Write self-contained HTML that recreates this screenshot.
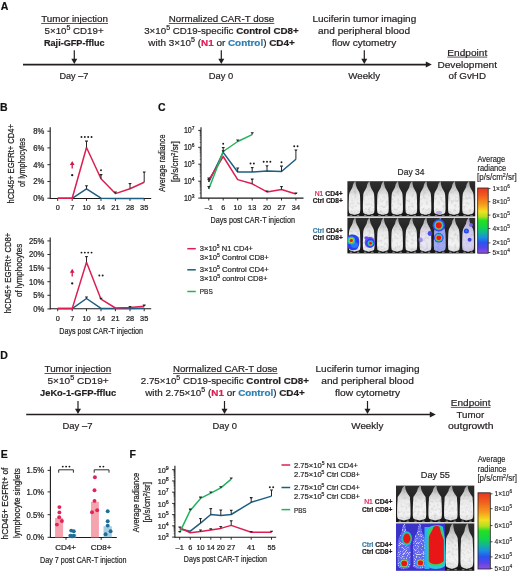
<!DOCTYPE html>
<html><head><meta charset="utf-8"><style>
html,body{margin:0;padding:0;background:#fff;width:520px;height:574px;overflow:hidden}
svg{display:block;filter:blur(0.3px)}
text{font-family:"Liberation Sans", sans-serif}
</style></head><body>
<svg width="520" height="574" viewBox="0 0 520 574">
<rect width="520" height="574" fill="#fff"/>
<defs>
<filter id="bl" x="-20%" y="-20%" width="140%" height="140%"><feGaussianBlur stdDeviation="0.45"/></filter>
<filter id="bl2" x="-50%" y="-50%" width="200%" height="200%"><feGaussianBlur stdDeviation="0.8"/></filter>
<filter id="fur" x="0" y="0" width="100%" height="100%"><feTurbulence type="fractalNoise" baseFrequency="0.35" numOctaves="2" seed="3" result="n"/><feColorMatrix in="n" type="matrix" values="0 0 0 0 0.3  0 0 0 0 0.3  0 0 0 0 0.3  0 0 0 0.8 -0.38" result="m"/><feGaussianBlur in="m" stdDeviation="0.5" result="b"/><feComposite in="b" in2="SourceGraphic" operator="in"/></filter>
<filter id="speck" x="0" y="0" width="100%" height="100%"><feTurbulence type="fractalNoise" baseFrequency="1.1" numOctaves="1" seed="7" result="n"/><feColorMatrix in="n" type="matrix" values="0 0 0 0 1  0 0 0 0 1  0 0 0 0 1  0 0 0 7 -3.7" result="m"/><feComposite in="m" in2="SourceGraphic" operator="in"/></filter>
<linearGradient id="cbar" x1="0" y1="0" x2="0" y2="1">
<stop offset="0" stop-color="#e8361e"/><stop offset="0.12" stop-color="#f05e1e"/><stop offset="0.25" stop-color="#f59a1c"/>
<stop offset="0.36" stop-color="#f2e020"/><stop offset="0.44" stop-color="#b0e020"/><stop offset="0.5" stop-color="#22e024"/><stop offset="0.6" stop-color="#14d448"/>
<stop offset="0.68" stop-color="#12b890"/><stop offset="0.76" stop-color="#1a8ee0"/><stop offset="0.84" stop-color="#2a52f0"/><stop offset="0.92" stop-color="#5a44e8"/><stop offset="1" stop-color="#9050e0"/>
</linearGradient>
<radialGradient id="hot">
<stop offset="0" stop-color="#e80f1a"/><stop offset="0.35" stop-color="#e81a1a"/><stop offset="0.45" stop-color="#f0c020"/>
<stop offset="0.55" stop-color="#20d0a0"/><stop offset="0.68" stop-color="#2070f0"/><stop offset="0.85" stop-color="#5a3cf0" stop-opacity="0.8"/><stop offset="1" stop-color="#8060f0" stop-opacity="0"/>
</radialGradient>
<radialGradient id="hot2">
<stop offset="0" stop-color="#e80f1a"/><stop offset="0.3" stop-color="#e8401a"/><stop offset="0.42" stop-color="#f0d020"/>
<stop offset="0.52" stop-color="#30d050"/><stop offset="0.62" stop-color="#20b0e0"/><stop offset="0.78" stop-color="#2440e8"/><stop offset="1" stop-color="#6040e0" stop-opacity="0"/>
</radialGradient>
<radialGradient id="bluespot">
<stop offset="0" stop-color="#1e5cf0"/><stop offset="0.5" stop-color="#3040e8"/><stop offset="1" stop-color="#8060f0" stop-opacity="0"/>
</radialGradient>
<radialGradient id="purp">
<stop offset="0" stop-color="#6a40e0" stop-opacity="0.9"/><stop offset="1" stop-color="#9070f0" stop-opacity="0"/>
</radialGradient>
<linearGradient id="mg" x1="0" y1="0" x2="0" y2="1">
<stop offset="0" stop-color="#999"/><stop offset="0.2" stop-color="#cacaca"/><stop offset="0.45" stop-color="#ebebeb"/><stop offset="0.8" stop-color="#f3f3f3"/><stop offset="1" stop-color="#dedede"/>
</linearGradient>
<linearGradient id="bgg" x1="0" y1="0" x2="0" y2="1">
<stop offset="0" stop-color="#2e2e2e"/><stop offset="0.5" stop-color="#1e1e1e"/><stop offset="1" stop-color="#161616"/>
</linearGradient>
</defs>
<text x="0.80" y="9.50" font-size="10.5" text-anchor="start" fill="#111" stroke="#111" stroke-width="0.2" font-weight="bold">A</text>
<text x="0.10" y="111.10" font-size="10.5" text-anchor="start" fill="#111" stroke="#111" stroke-width="0.2" font-weight="bold">B</text>
<text x="158.10" y="111.10" font-size="10.5" text-anchor="start" fill="#111" stroke="#111" stroke-width="0.2" font-weight="bold">C</text>
<text x="0.30" y="359.30" font-size="10.5" text-anchor="start" fill="#111" stroke="#111" stroke-width="0.2" font-weight="bold">D</text>
<text x="0.80" y="458.30" font-size="10.5" text-anchor="start" fill="#111" stroke="#111" stroke-width="0.2" font-weight="bold">E</text>
<text x="129.50" y="457.90" font-size="10.5" text-anchor="start" fill="#111" stroke="#111" stroke-width="0.2" font-weight="bold">F</text>
<line x1="23.00" y1="64.60" x2="426.80" y2="64.60" stroke="#231f20" stroke-width="1.7"/>
<path d="M425.80,61.60 L431.80,64.60 L425.80,67.60 Z" fill="#231f20"/>
<line x1="74.30" y1="50.20" x2="74.30" y2="61.00" stroke="#231f20" stroke-width="1.2"/>
<path d="M71.30,58.80 L77.30,58.80 L74.30,64.00 Z" fill="#231f20"/>
<line x1="221.30" y1="50.20" x2="221.30" y2="61.00" stroke="#231f20" stroke-width="1.2"/>
<path d="M218.30,58.80 L224.30,58.80 L221.30,64.00 Z" fill="#231f20"/>
<line x1="364.30" y1="50.20" x2="364.30" y2="61.00" stroke="#231f20" stroke-width="1.2"/>
<path d="M361.30,58.80 L367.30,58.80 L364.30,64.00 Z" fill="#231f20"/>
<text x="41.20" y="22.30" font-size="9.6" text-anchor="start" fill="#231f20" stroke="#231f20" stroke-width="0.2" textLength="66.80" lengthAdjust="spacingAndGlyphs">Tumor injection</text>
<line x1="41.20" y1="23.50" x2="108.00" y2="23.50" stroke="#231f20" stroke-width="0.75"/>
<text x="44.60" y="34.30" font-size="9.6" text-anchor="start" fill="#231f20" stroke="#231f20" stroke-width="0.2" textLength="59.00" lengthAdjust="spacingAndGlyphs">5×10<tspan baseline-shift="3.6" font-size="6.9">5</tspan> CD19+</text>
<text x="44.00" y="45.80" font-size="9.6" text-anchor="start" fill="#231f20" stroke="#231f20" stroke-width="0.2" font-weight="bold" textLength="60.60" lengthAdjust="spacingAndGlyphs">Raji-GFP-ffluc</text>
<text x="59.40" y="78.80" font-size="9.6" text-anchor="start" fill="#231f20" stroke="#231f20" stroke-width="0.2" textLength="28.90" lengthAdjust="spacingAndGlyphs">Day –7</text>
<text x="168.80" y="22.30" font-size="9.6" text-anchor="start" fill="#231f20" stroke="#231f20" stroke-width="0.2" textLength="105.50" lengthAdjust="spacingAndGlyphs">Normalized CAR-T dose</text>
<line x1="168.80" y1="23.50" x2="274.30" y2="23.50" stroke="#231f20" stroke-width="0.75"/>
<text x="144.20" y="34.30" font-size="9.6" text-anchor="start" fill="#231f20" stroke="#231f20" stroke-width="0.2" textLength="154.50" lengthAdjust="spacingAndGlyphs">3×10<tspan baseline-shift="3.6" font-size="6.9">5</tspan> CD19-specific <tspan font-weight="bold">Control CD8+</tspan></text>
<text x="148.30" y="45.60" font-size="9.6" text-anchor="start" fill="#231f20" stroke="#231f20" stroke-width="0.2" textLength="146.50" lengthAdjust="spacingAndGlyphs">with 3×10<tspan baseline-shift="3.6" font-size="6.9">5</tspan> (<tspan fill="#dc1f52" stroke="#dc1f52"><tspan font-weight="bold">N1</tspan></tspan> or <tspan fill="#2b7db5" stroke="#2b7db5"><tspan font-weight="bold">Control</tspan></tspan>) <tspan font-weight="bold">CD4+</tspan></text>
<text x="208.80" y="78.70" font-size="9.6" text-anchor="start" fill="#231f20" stroke="#231f20" stroke-width="0.2" textLength="24.50" lengthAdjust="spacingAndGlyphs">Day 0</text>
<text x="312.50" y="22.40" font-size="9.6" text-anchor="start" fill="#231f20" stroke="#231f20" stroke-width="0.2" textLength="103.70" lengthAdjust="spacingAndGlyphs">Luciferin tumor imaging</text>
<text x="318.00" y="34.30" font-size="9.6" text-anchor="start" fill="#231f20" stroke="#231f20" stroke-width="0.2" textLength="92.00" lengthAdjust="spacingAndGlyphs">and peripheral blood</text>
<text x="332.00" y="45.70" font-size="9.6" text-anchor="start" fill="#231f20" stroke="#231f20" stroke-width="0.2" textLength="64.20" lengthAdjust="spacingAndGlyphs">flow cytometry</text>
<text x="348.30" y="78.70" font-size="9.6" text-anchor="start" fill="#231f20" stroke="#231f20" stroke-width="0.2" textLength="31.70" lengthAdjust="spacingAndGlyphs">Weekly</text>
<text x="447.30" y="55.80" font-size="9.6" text-anchor="start" fill="#231f20" stroke="#231f20" stroke-width="0.2" textLength="39.90" lengthAdjust="spacingAndGlyphs">Endpoint</text>
<line x1="447.30" y1="57.10" x2="487.20" y2="57.10" stroke="#231f20" stroke-width="0.75"/>
<text x="437.40" y="67.90" font-size="9.6" text-anchor="start" fill="#231f20" stroke="#231f20" stroke-width="0.2" textLength="59.60" lengthAdjust="spacingAndGlyphs">Development</text>
<text x="448.50" y="79.00" font-size="9.6" text-anchor="start" fill="#231f20" stroke="#231f20" stroke-width="0.2" textLength="37.50" lengthAdjust="spacingAndGlyphs">of GvHD</text>
<line x1="26.20" y1="414.50" x2="430.80" y2="414.50" stroke="#231f20" stroke-width="1.7"/>
<path d="M429.80,411.50 L435.80,414.50 L429.80,417.50 Z" fill="#231f20"/>
<line x1="78.00" y1="401.00" x2="78.00" y2="410.90" stroke="#231f20" stroke-width="1.2"/>
<path d="M75.00,408.70 L81.00,408.70 L78.00,413.90 Z" fill="#231f20"/>
<line x1="224.50" y1="401.00" x2="224.50" y2="410.90" stroke="#231f20" stroke-width="1.2"/>
<path d="M221.50,408.70 L227.50,408.70 L224.50,413.90 Z" fill="#231f20"/>
<line x1="367.50" y1="401.00" x2="367.50" y2="410.90" stroke="#231f20" stroke-width="1.2"/>
<path d="M364.50,408.70 L370.50,408.70 L367.50,413.90 Z" fill="#231f20"/>
<text x="44.50" y="372.30" font-size="9.6" text-anchor="start" fill="#231f20" stroke="#231f20" stroke-width="0.2" textLength="66.80" lengthAdjust="spacingAndGlyphs">Tumor injection</text>
<line x1="44.50" y1="373.50" x2="111.30" y2="373.50" stroke="#231f20" stroke-width="0.75"/>
<text x="47.50" y="384.30" font-size="9.6" text-anchor="start" fill="#231f20" stroke="#231f20" stroke-width="0.2" textLength="61.20" lengthAdjust="spacingAndGlyphs">5×10<tspan baseline-shift="3.6" font-size="6.9">5</tspan> CD19+</text>
<text x="40.00" y="395.80" font-size="9.6" text-anchor="start" fill="#231f20" stroke="#231f20" stroke-width="0.2" font-weight="bold" textLength="76.20" lengthAdjust="spacingAndGlyphs">JeKo-1-GFP-ffluc</text>
<text x="62.50" y="429.30" font-size="9.6" text-anchor="start" fill="#231f20" stroke="#231f20" stroke-width="0.2" textLength="30.00" lengthAdjust="spacingAndGlyphs">Day –7</text>
<text x="173.00" y="372.30" font-size="9.6" text-anchor="start" fill="#231f20" stroke="#231f20" stroke-width="0.2" textLength="104.50" lengthAdjust="spacingAndGlyphs">Normalized CAR-T dose</text>
<line x1="173.00" y1="373.50" x2="277.50" y2="373.50" stroke="#231f20" stroke-width="0.75"/>
<text x="140.80" y="384.30" font-size="9.6" text-anchor="start" fill="#231f20" stroke="#231f20" stroke-width="0.2" textLength="168.20" lengthAdjust="spacingAndGlyphs">2.75×10<tspan baseline-shift="3.6" font-size="6.9">5</tspan> CD19-specific <tspan font-weight="bold">Control CD8+</tspan></text>
<text x="145.20" y="395.80" font-size="9.6" text-anchor="start" fill="#231f20" stroke="#231f20" stroke-width="0.2" textLength="159.50" lengthAdjust="spacingAndGlyphs">with 2.75×10<tspan baseline-shift="3.6" font-size="6.9">5</tspan> (<tspan fill="#dc1f52" stroke="#dc1f52"><tspan font-weight="bold">N1</tspan></tspan> or <tspan fill="#2b7db5" stroke="#2b7db5"><tspan font-weight="bold">Control</tspan></tspan>) <tspan font-weight="bold">CD4+</tspan></text>
<text x="212.50" y="428.80" font-size="9.6" text-anchor="start" fill="#231f20" stroke="#231f20" stroke-width="0.2" textLength="24.50" lengthAdjust="spacingAndGlyphs">Day 0</text>
<text x="315.50" y="372.30" font-size="9.6" text-anchor="start" fill="#231f20" stroke="#231f20" stroke-width="0.2" textLength="104.00" lengthAdjust="spacingAndGlyphs">Luciferin tumor imaging</text>
<text x="321.30" y="384.30" font-size="9.6" text-anchor="start" fill="#231f20" stroke="#231f20" stroke-width="0.2" textLength="92.50" lengthAdjust="spacingAndGlyphs">and peripheral blood</text>
<text x="335.00" y="395.80" font-size="9.6" text-anchor="start" fill="#231f20" stroke="#231f20" stroke-width="0.2" textLength="65.00" lengthAdjust="spacingAndGlyphs">flow cytometry</text>
<text x="351.30" y="428.80" font-size="9.6" text-anchor="start" fill="#231f20" stroke="#231f20" stroke-width="0.2" textLength="32.00" lengthAdjust="spacingAndGlyphs">Weekly</text>
<text x="450.80" y="406.20" font-size="9.6" text-anchor="start" fill="#231f20" stroke="#231f20" stroke-width="0.2" textLength="39.70" lengthAdjust="spacingAndGlyphs">Endpoint</text>
<line x1="450.80" y1="407.40" x2="490.50" y2="407.40" stroke="#231f20" stroke-width="0.75"/>
<text x="456.50" y="417.90" font-size="9.6" text-anchor="start" fill="#231f20" stroke="#231f20" stroke-width="0.2" textLength="27.70" lengthAdjust="spacingAndGlyphs">Tumor</text>
<text x="448.00" y="428.90" font-size="9.6" text-anchor="start" fill="#231f20" stroke="#231f20" stroke-width="0.2" textLength="45.50" lengthAdjust="spacingAndGlyphs">outgrowth</text>
<line x1="50.20" y1="127.30" x2="50.20" y2="199.00" stroke="#1a1a1a" stroke-width="1.1"/>
<line x1="47.40" y1="131.20" x2="50.20" y2="131.20" stroke="#1a1a1a" stroke-width="0.9"/>
<text x="44.20" y="134.10" font-size="8.3" text-anchor="end" fill="#1e1e1e" stroke="#1e1e1e" stroke-width="0.24" textLength="11.04" lengthAdjust="spacingAndGlyphs">8%</text>
<line x1="47.40" y1="147.90" x2="50.20" y2="147.90" stroke="#1a1a1a" stroke-width="0.9"/>
<text x="44.20" y="150.80" font-size="8.3" text-anchor="end" fill="#1e1e1e" stroke="#1e1e1e" stroke-width="0.24" textLength="11.04" lengthAdjust="spacingAndGlyphs">6%</text>
<line x1="47.40" y1="164.70" x2="50.20" y2="164.70" stroke="#1a1a1a" stroke-width="0.9"/>
<text x="44.20" y="167.60" font-size="8.3" text-anchor="end" fill="#1e1e1e" stroke="#1e1e1e" stroke-width="0.24" textLength="11.04" lengthAdjust="spacingAndGlyphs">4%</text>
<line x1="47.40" y1="181.50" x2="50.20" y2="181.50" stroke="#1a1a1a" stroke-width="0.9"/>
<text x="44.20" y="184.40" font-size="8.3" text-anchor="end" fill="#1e1e1e" stroke="#1e1e1e" stroke-width="0.24" textLength="11.04" lengthAdjust="spacingAndGlyphs">2%</text>
<line x1="47.40" y1="198.20" x2="50.20" y2="198.20" stroke="#1a1a1a" stroke-width="0.9"/>
<text x="44.20" y="201.10" font-size="8.3" text-anchor="end" fill="#1e1e1e" stroke="#1e1e1e" stroke-width="0.24" textLength="11.04" lengthAdjust="spacingAndGlyphs">0%</text>
<line x1="50.20" y1="198.50" x2="151.20" y2="198.50" stroke="#1a1a1a" stroke-width="1.1"/>
<line x1="57.70" y1="198.50" x2="57.70" y2="200.90" stroke="#1a1a1a" stroke-width="0.9"/>
<text x="57.70" y="209.70" font-size="7.9" text-anchor="middle" fill="#1e1e1e" stroke="#1e1e1e" stroke-width="0.24" textLength="4.09" lengthAdjust="spacingAndGlyphs">0</text>
<line x1="72.20" y1="198.50" x2="72.20" y2="200.90" stroke="#1a1a1a" stroke-width="0.9"/>
<text x="72.20" y="209.70" font-size="7.9" text-anchor="middle" fill="#1e1e1e" stroke="#1e1e1e" stroke-width="0.24" textLength="4.09" lengthAdjust="spacingAndGlyphs">7</text>
<line x1="86.50" y1="198.50" x2="86.50" y2="200.90" stroke="#1a1a1a" stroke-width="0.9"/>
<text x="86.50" y="209.70" font-size="7.9" text-anchor="middle" fill="#1e1e1e" stroke="#1e1e1e" stroke-width="0.24" textLength="8.17" lengthAdjust="spacingAndGlyphs">10</text>
<line x1="101.00" y1="198.50" x2="101.00" y2="200.90" stroke="#1a1a1a" stroke-width="0.9"/>
<text x="101.00" y="209.70" font-size="7.9" text-anchor="middle" fill="#1e1e1e" stroke="#1e1e1e" stroke-width="0.24" textLength="8.17" lengthAdjust="spacingAndGlyphs">14</text>
<line x1="115.40" y1="198.50" x2="115.40" y2="200.90" stroke="#1a1a1a" stroke-width="0.9"/>
<text x="115.40" y="209.70" font-size="7.9" text-anchor="middle" fill="#1e1e1e" stroke="#1e1e1e" stroke-width="0.24" textLength="8.17" lengthAdjust="spacingAndGlyphs">21</text>
<line x1="130.00" y1="198.50" x2="130.00" y2="200.90" stroke="#1a1a1a" stroke-width="0.9"/>
<text x="130.00" y="209.70" font-size="7.9" text-anchor="middle" fill="#1e1e1e" stroke="#1e1e1e" stroke-width="0.24" textLength="8.17" lengthAdjust="spacingAndGlyphs">28</text>
<line x1="144.20" y1="198.50" x2="144.20" y2="200.90" stroke="#1a1a1a" stroke-width="0.9"/>
<text x="144.20" y="209.70" font-size="7.9" text-anchor="middle" fill="#1e1e1e" stroke="#1e1e1e" stroke-width="0.24" textLength="8.17" lengthAdjust="spacingAndGlyphs">35</text>
<polyline points="57.70,198.30 72.20,198.30 86.50,188.80 101.00,198.20 115.40,198.40 130.00,198.40 144.20,198.40" fill="none" stroke="#1d5e82" stroke-width="1.5" stroke-linejoin="round"/>
<polyline points="57.70,198.30 72.20,198.30 86.50,147.50 101.00,178.80 115.40,193.60 130.00,188.80 144.20,182.30" fill="none" stroke="#dc1f52" stroke-width="1.5" stroke-linejoin="round"/>
<line x1="86.50" y1="147.50" x2="86.50" y2="141.20" stroke="#262626" stroke-width="1.0"/>
<path d="M84.90,140.60 L88.10,140.60 L87.46,141.90 L85.54,141.90 Z" fill="#262626"/>
<line x1="101.00" y1="178.80" x2="101.00" y2="174.70" stroke="#262626" stroke-width="1.0"/>
<path d="M99.40,174.10 L102.60,174.10 L101.96,175.40 L100.04,175.40 Z" fill="#262626"/>
<line x1="115.40" y1="193.60" x2="115.40" y2="192.00" stroke="#262626" stroke-width="1.0"/>
<path d="M113.80,191.40 L117.00,191.40 L116.36,192.70 L114.44,192.70 Z" fill="#262626"/>
<line x1="130.00" y1="188.80" x2="130.00" y2="183.50" stroke="#262626" stroke-width="1.0"/>
<path d="M128.40,182.90 L131.60,182.90 L130.96,184.20 L129.04,184.20 Z" fill="#262626"/>
<line x1="144.20" y1="182.30" x2="144.20" y2="172.00" stroke="#262626" stroke-width="1.0"/>
<path d="M142.60,171.40 L145.80,171.40 L145.16,172.70 L143.24,172.70 Z" fill="#262626"/>
<line x1="86.50" y1="188.80" x2="86.50" y2="185.80" stroke="#262626" stroke-width="1.0"/>
<path d="M84.90,185.20 L88.10,185.20 L87.46,186.50 L85.54,186.50 Z" fill="#262626"/>
<circle cx="81.47" cy="137.00" r="0.95" fill="#1a1a1a"/>
<circle cx="84.83" cy="137.00" r="0.95" fill="#1a1a1a"/>
<circle cx="88.17" cy="137.00" r="0.95" fill="#1a1a1a"/>
<circle cx="91.53" cy="137.00" r="0.95" fill="#1a1a1a"/>
<circle cx="101.00" cy="170.30" r="0.95" fill="#1a1a1a"/>
<line x1="72.20" y1="163.10" x2="72.20" y2="168.60" stroke="#d0164a" stroke-width="1.3"/>
<path d="M69.90,165.10 L74.50,165.10 L72.20,161.10 Z" fill="#d0164a"/>
<circle cx="72.20" cy="175.20" r="1.15" fill="#1a1a1a"/>
<text transform="translate(14.00,163.80) rotate(-90)" x="0" y="0" font-size="8.8" text-anchor="middle" fill="#1e1e1e" stroke="#1e1e1e" stroke-width="0.24" textLength="79.50" lengthAdjust="spacingAndGlyphs">hCD45+ EGFRt+ CD4+</text>
<text transform="translate(25.40,162.50) rotate(-90)" x="0" y="0" font-size="8.8" text-anchor="middle" fill="#1e1e1e" stroke="#1e1e1e" stroke-width="0.24" textLength="49.00" lengthAdjust="spacingAndGlyphs">of lymphocytes</text>
<line x1="50.20" y1="237.50" x2="50.20" y2="309.40" stroke="#1a1a1a" stroke-width="1.1"/>
<line x1="47.40" y1="240.90" x2="50.20" y2="240.90" stroke="#1a1a1a" stroke-width="0.9"/>
<text x="44.20" y="243.80" font-size="8.3" text-anchor="end" fill="#1e1e1e" stroke="#1e1e1e" stroke-width="0.24" textLength="15.28" lengthAdjust="spacingAndGlyphs">25%</text>
<line x1="47.40" y1="254.50" x2="50.20" y2="254.50" stroke="#1a1a1a" stroke-width="0.9"/>
<text x="44.20" y="257.40" font-size="8.3" text-anchor="end" fill="#1e1e1e" stroke="#1e1e1e" stroke-width="0.24" textLength="15.28" lengthAdjust="spacingAndGlyphs">20%</text>
<line x1="47.40" y1="268.10" x2="50.20" y2="268.10" stroke="#1a1a1a" stroke-width="0.9"/>
<text x="44.20" y="271.00" font-size="8.3" text-anchor="end" fill="#1e1e1e" stroke="#1e1e1e" stroke-width="0.24" textLength="15.28" lengthAdjust="spacingAndGlyphs">15%</text>
<line x1="47.40" y1="281.70" x2="50.20" y2="281.70" stroke="#1a1a1a" stroke-width="0.9"/>
<text x="44.20" y="284.60" font-size="8.3" text-anchor="end" fill="#1e1e1e" stroke="#1e1e1e" stroke-width="0.24" textLength="15.28" lengthAdjust="spacingAndGlyphs">10%</text>
<line x1="47.40" y1="295.30" x2="50.20" y2="295.30" stroke="#1a1a1a" stroke-width="0.9"/>
<text x="44.20" y="298.20" font-size="8.3" text-anchor="end" fill="#1e1e1e" stroke="#1e1e1e" stroke-width="0.24" textLength="11.04" lengthAdjust="spacingAndGlyphs">5%</text>
<line x1="47.40" y1="308.90" x2="50.20" y2="308.90" stroke="#1a1a1a" stroke-width="0.9"/>
<text x="44.20" y="311.80" font-size="8.3" text-anchor="end" fill="#1e1e1e" stroke="#1e1e1e" stroke-width="0.24" textLength="11.04" lengthAdjust="spacingAndGlyphs">0%</text>
<line x1="50.20" y1="308.80" x2="151.20" y2="308.80" stroke="#1a1a1a" stroke-width="1.1"/>
<line x1="57.70" y1="308.80" x2="57.70" y2="311.20" stroke="#1a1a1a" stroke-width="0.9"/>
<text x="57.70" y="320.50" font-size="7.9" text-anchor="middle" fill="#1e1e1e" stroke="#1e1e1e" stroke-width="0.24" textLength="4.09" lengthAdjust="spacingAndGlyphs">0</text>
<line x1="72.20" y1="308.80" x2="72.20" y2="311.20" stroke="#1a1a1a" stroke-width="0.9"/>
<text x="72.20" y="320.50" font-size="7.9" text-anchor="middle" fill="#1e1e1e" stroke="#1e1e1e" stroke-width="0.24" textLength="4.09" lengthAdjust="spacingAndGlyphs">7</text>
<line x1="86.50" y1="308.80" x2="86.50" y2="311.20" stroke="#1a1a1a" stroke-width="0.9"/>
<text x="86.50" y="320.50" font-size="7.9" text-anchor="middle" fill="#1e1e1e" stroke="#1e1e1e" stroke-width="0.24" textLength="8.17" lengthAdjust="spacingAndGlyphs">10</text>
<line x1="101.00" y1="308.80" x2="101.00" y2="311.20" stroke="#1a1a1a" stroke-width="0.9"/>
<text x="101.00" y="320.50" font-size="7.9" text-anchor="middle" fill="#1e1e1e" stroke="#1e1e1e" stroke-width="0.24" textLength="8.17" lengthAdjust="spacingAndGlyphs">14</text>
<line x1="115.40" y1="308.80" x2="115.40" y2="311.20" stroke="#1a1a1a" stroke-width="0.9"/>
<text x="115.40" y="320.50" font-size="7.9" text-anchor="middle" fill="#1e1e1e" stroke="#1e1e1e" stroke-width="0.24" textLength="8.17" lengthAdjust="spacingAndGlyphs">21</text>
<line x1="130.00" y1="308.80" x2="130.00" y2="311.20" stroke="#1a1a1a" stroke-width="0.9"/>
<text x="130.00" y="320.50" font-size="7.9" text-anchor="middle" fill="#1e1e1e" stroke="#1e1e1e" stroke-width="0.24" textLength="8.17" lengthAdjust="spacingAndGlyphs">28</text>
<line x1="144.20" y1="308.80" x2="144.20" y2="311.20" stroke="#1a1a1a" stroke-width="0.9"/>
<text x="144.20" y="320.50" font-size="7.9" text-anchor="middle" fill="#1e1e1e" stroke="#1e1e1e" stroke-width="0.24" textLength="8.17" lengthAdjust="spacingAndGlyphs">35</text>
<polyline points="57.70,308.60 72.20,308.60 86.50,298.50 101.00,308.40 115.40,308.60 130.00,308.40 144.20,308.20" fill="none" stroke="#1d5e82" stroke-width="1.5" stroke-linejoin="round"/>
<polyline points="57.70,308.60 72.20,308.60 86.50,262.30 101.00,299.20 115.40,308.00 130.00,307.40 144.20,306.30" fill="none" stroke="#dc1f52" stroke-width="1.5" stroke-linejoin="round"/>
<line x1="86.50" y1="262.30" x2="86.50" y2="256.50" stroke="#262626" stroke-width="1.0"/>
<path d="M84.90,255.90 L88.10,255.90 L87.46,257.20 L85.54,257.20 Z" fill="#262626"/>
<line x1="101.00" y1="299.20" x2="101.00" y2="298.30" stroke="#262626" stroke-width="1.0"/>
<path d="M99.40,297.70 L102.60,297.70 L101.96,299.00 L100.04,299.00 Z" fill="#262626"/>
<line x1="130.00" y1="307.40" x2="130.00" y2="306.60" stroke="#262626" stroke-width="1.0"/>
<path d="M128.40,306.00 L131.60,306.00 L130.96,307.30 L129.04,307.30 Z" fill="#262626"/>
<line x1="144.20" y1="306.30" x2="144.20" y2="305.20" stroke="#262626" stroke-width="1.0"/>
<path d="M142.60,304.60 L145.80,304.60 L145.16,305.90 L143.24,305.90 Z" fill="#262626"/>
<line x1="86.50" y1="298.50" x2="86.50" y2="297.00" stroke="#262626" stroke-width="1.0"/>
<path d="M84.90,296.40 L88.10,296.40 L87.46,297.70 L85.54,297.70 Z" fill="#262626"/>
<circle cx="81.47" cy="252.60" r="0.95" fill="#1a1a1a"/>
<circle cx="84.83" cy="252.60" r="0.95" fill="#1a1a1a"/>
<circle cx="88.17" cy="252.60" r="0.95" fill="#1a1a1a"/>
<circle cx="91.53" cy="252.60" r="0.95" fill="#1a1a1a"/>
<circle cx="99.33" cy="275.50" r="0.95" fill="#1a1a1a"/>
<circle cx="102.67" cy="275.50" r="0.95" fill="#1a1a1a"/>
<line x1="72.20" y1="270.80" x2="72.20" y2="276.50" stroke="#d0164a" stroke-width="1.3"/>
<path d="M69.90,272.80 L74.50,272.80 L72.20,268.80 Z" fill="#d0164a"/>
<circle cx="72.20" cy="283.40" r="1.15" fill="#1a1a1a"/>
<text transform="translate(10.60,273.00) rotate(-90)" x="0" y="0" font-size="8.8" text-anchor="middle" fill="#1e1e1e" stroke="#1e1e1e" stroke-width="0.24" textLength="80.70" lengthAdjust="spacingAndGlyphs">hCD45+ EGFRt+ CD8+</text>
<text transform="translate(21.60,270.40) rotate(-90)" x="0" y="0" font-size="8.8" text-anchor="middle" fill="#1e1e1e" stroke="#1e1e1e" stroke-width="0.24" textLength="53.30" lengthAdjust="spacingAndGlyphs">of lymphocytes</text>
<text x="59.30" y="334.30" font-size="9.6" text-anchor="start" fill="#1e1e1e" stroke="#1e1e1e" stroke-width="0.2" textLength="83.70" lengthAdjust="spacingAndGlyphs">Days post CAR-T injection</text>
<line x1="201.00" y1="127.30" x2="201.00" y2="198.60" stroke="#1a1a1a" stroke-width="1.1"/>
<line x1="198.20" y1="130.40" x2="201.00" y2="130.40" stroke="#1a1a1a" stroke-width="0.9"/>
<line x1="198.20" y1="147.30" x2="201.00" y2="147.30" stroke="#1a1a1a" stroke-width="0.9"/>
<line x1="198.20" y1="164.20" x2="201.00" y2="164.20" stroke="#1a1a1a" stroke-width="0.9"/>
<line x1="198.20" y1="181.20" x2="201.00" y2="181.20" stroke="#1a1a1a" stroke-width="0.9"/>
<line x1="198.20" y1="198.10" x2="201.00" y2="198.10" stroke="#1a1a1a" stroke-width="0.9"/>
<line x1="199.70" y1="142.21" x2="201.00" y2="142.21" stroke="#1a1a1a" stroke-width="0.6"/>
<line x1="199.70" y1="139.24" x2="201.00" y2="139.24" stroke="#1a1a1a" stroke-width="0.6"/>
<line x1="199.70" y1="137.13" x2="201.00" y2="137.13" stroke="#1a1a1a" stroke-width="0.6"/>
<line x1="199.70" y1="135.49" x2="201.00" y2="135.49" stroke="#1a1a1a" stroke-width="0.6"/>
<line x1="199.70" y1="134.15" x2="201.00" y2="134.15" stroke="#1a1a1a" stroke-width="0.6"/>
<line x1="199.70" y1="133.02" x2="201.00" y2="133.02" stroke="#1a1a1a" stroke-width="0.6"/>
<line x1="199.70" y1="132.04" x2="201.00" y2="132.04" stroke="#1a1a1a" stroke-width="0.6"/>
<line x1="199.70" y1="131.17" x2="201.00" y2="131.17" stroke="#1a1a1a" stroke-width="0.6"/>
<line x1="199.70" y1="159.11" x2="201.00" y2="159.11" stroke="#1a1a1a" stroke-width="0.6"/>
<line x1="199.70" y1="156.14" x2="201.00" y2="156.14" stroke="#1a1a1a" stroke-width="0.6"/>
<line x1="199.70" y1="154.03" x2="201.00" y2="154.03" stroke="#1a1a1a" stroke-width="0.6"/>
<line x1="199.70" y1="152.39" x2="201.00" y2="152.39" stroke="#1a1a1a" stroke-width="0.6"/>
<line x1="199.70" y1="151.05" x2="201.00" y2="151.05" stroke="#1a1a1a" stroke-width="0.6"/>
<line x1="199.70" y1="149.92" x2="201.00" y2="149.92" stroke="#1a1a1a" stroke-width="0.6"/>
<line x1="199.70" y1="148.94" x2="201.00" y2="148.94" stroke="#1a1a1a" stroke-width="0.6"/>
<line x1="199.70" y1="148.07" x2="201.00" y2="148.07" stroke="#1a1a1a" stroke-width="0.6"/>
<line x1="199.70" y1="176.08" x2="201.00" y2="176.08" stroke="#1a1a1a" stroke-width="0.6"/>
<line x1="199.70" y1="173.09" x2="201.00" y2="173.09" stroke="#1a1a1a" stroke-width="0.6"/>
<line x1="199.70" y1="170.96" x2="201.00" y2="170.96" stroke="#1a1a1a" stroke-width="0.6"/>
<line x1="199.70" y1="169.32" x2="201.00" y2="169.32" stroke="#1a1a1a" stroke-width="0.6"/>
<line x1="199.70" y1="167.97" x2="201.00" y2="167.97" stroke="#1a1a1a" stroke-width="0.6"/>
<line x1="199.70" y1="166.83" x2="201.00" y2="166.83" stroke="#1a1a1a" stroke-width="0.6"/>
<line x1="199.70" y1="165.85" x2="201.00" y2="165.85" stroke="#1a1a1a" stroke-width="0.6"/>
<line x1="199.70" y1="164.98" x2="201.00" y2="164.98" stroke="#1a1a1a" stroke-width="0.6"/>
<line x1="199.70" y1="193.01" x2="201.00" y2="193.01" stroke="#1a1a1a" stroke-width="0.6"/>
<line x1="199.70" y1="190.04" x2="201.00" y2="190.04" stroke="#1a1a1a" stroke-width="0.6"/>
<line x1="199.70" y1="187.93" x2="201.00" y2="187.93" stroke="#1a1a1a" stroke-width="0.6"/>
<line x1="199.70" y1="186.29" x2="201.00" y2="186.29" stroke="#1a1a1a" stroke-width="0.6"/>
<line x1="199.70" y1="184.95" x2="201.00" y2="184.95" stroke="#1a1a1a" stroke-width="0.6"/>
<line x1="199.70" y1="183.82" x2="201.00" y2="183.82" stroke="#1a1a1a" stroke-width="0.6"/>
<line x1="199.70" y1="182.84" x2="201.00" y2="182.84" stroke="#1a1a1a" stroke-width="0.6"/>
<line x1="199.70" y1="181.97" x2="201.00" y2="181.97" stroke="#1a1a1a" stroke-width="0.6"/>
<text x="183.90" y="133.00" font-size="8.3" text-anchor="start" fill="#1e1e1e" stroke="#1e1e1e" stroke-width="0.24" textLength="10.60" lengthAdjust="spacingAndGlyphs">10<tspan baseline-shift="3.2" font-size="5.8">7</tspan></text>
<text x="183.90" y="149.90" font-size="8.3" text-anchor="start" fill="#1e1e1e" stroke="#1e1e1e" stroke-width="0.24" textLength="10.60" lengthAdjust="spacingAndGlyphs">10<tspan baseline-shift="3.2" font-size="5.8">6</tspan></text>
<text x="183.90" y="166.80" font-size="8.3" text-anchor="start" fill="#1e1e1e" stroke="#1e1e1e" stroke-width="0.24" textLength="10.60" lengthAdjust="spacingAndGlyphs">10<tspan baseline-shift="3.2" font-size="5.8">5</tspan></text>
<text x="183.90" y="183.80" font-size="8.3" text-anchor="start" fill="#1e1e1e" stroke="#1e1e1e" stroke-width="0.24" textLength="10.60" lengthAdjust="spacingAndGlyphs">10<tspan baseline-shift="3.2" font-size="5.8">4</tspan></text>
<text x="183.90" y="200.70" font-size="8.3" text-anchor="start" fill="#1e1e1e" stroke="#1e1e1e" stroke-width="0.24" textLength="10.60" lengthAdjust="spacingAndGlyphs">10<tspan baseline-shift="3.2" font-size="5.8">3</tspan></text>
<line x1="201.00" y1="198.10" x2="303.50" y2="198.10" stroke="#1a1a1a" stroke-width="1.1"/>
<line x1="208.80" y1="198.10" x2="208.80" y2="200.50" stroke="#1a1a1a" stroke-width="0.9"/>
<text x="208.80" y="209.90" font-size="7.9" text-anchor="middle" fill="#1e1e1e" stroke="#1e1e1e" stroke-width="0.24" textLength="8.17" lengthAdjust="spacingAndGlyphs">–1</text>
<line x1="223.20" y1="198.10" x2="223.20" y2="200.50" stroke="#1a1a1a" stroke-width="0.9"/>
<text x="223.20" y="209.90" font-size="7.9" text-anchor="middle" fill="#1e1e1e" stroke="#1e1e1e" stroke-width="0.24" textLength="4.09" lengthAdjust="spacingAndGlyphs">6</text>
<line x1="237.70" y1="198.10" x2="237.70" y2="200.50" stroke="#1a1a1a" stroke-width="0.9"/>
<text x="237.70" y="209.90" font-size="7.9" text-anchor="middle" fill="#1e1e1e" stroke="#1e1e1e" stroke-width="0.24" textLength="8.17" lengthAdjust="spacingAndGlyphs">10</text>
<line x1="252.20" y1="198.10" x2="252.20" y2="200.50" stroke="#1a1a1a" stroke-width="0.9"/>
<text x="252.20" y="209.90" font-size="7.9" text-anchor="middle" fill="#1e1e1e" stroke="#1e1e1e" stroke-width="0.24" textLength="8.17" lengthAdjust="spacingAndGlyphs">13</text>
<line x1="267.00" y1="198.10" x2="267.00" y2="200.50" stroke="#1a1a1a" stroke-width="0.9"/>
<text x="267.00" y="209.90" font-size="7.9" text-anchor="middle" fill="#1e1e1e" stroke="#1e1e1e" stroke-width="0.24" textLength="8.17" lengthAdjust="spacingAndGlyphs">20</text>
<line x1="281.50" y1="198.10" x2="281.50" y2="200.50" stroke="#1a1a1a" stroke-width="0.9"/>
<text x="281.50" y="209.90" font-size="7.9" text-anchor="middle" fill="#1e1e1e" stroke="#1e1e1e" stroke-width="0.24" textLength="8.17" lengthAdjust="spacingAndGlyphs">27</text>
<line x1="295.90" y1="198.10" x2="295.90" y2="200.50" stroke="#1a1a1a" stroke-width="0.9"/>
<text x="295.90" y="209.90" font-size="7.9" text-anchor="middle" fill="#1e1e1e" stroke="#1e1e1e" stroke-width="0.24" textLength="8.17" lengthAdjust="spacingAndGlyphs">34</text>
<polyline points="208.80,182.00 223.20,152.40 237.70,172.00 252.20,172.00 267.00,171.00 281.50,171.50 295.90,159.30" fill="none" stroke="#1d5e82" stroke-width="1.5" stroke-linejoin="round"/>
<polyline points="208.80,180.00 223.20,156.50 237.70,179.60 252.20,183.80 267.00,191.90 281.50,189.50 295.90,194.00" fill="none" stroke="#dc1f52" stroke-width="1.5" stroke-linejoin="round"/>
<polyline points="208.80,188.90 223.20,151.50 237.70,141.50 252.20,134.60" fill="none" stroke="#22b35f" stroke-width="1.5" stroke-linejoin="round"/>
<line x1="208.80" y1="180.00" x2="208.80" y2="178.00" stroke="#262626" stroke-width="1.0"/>
<path d="M207.20,177.40 L210.40,177.40 L209.76,178.70 L207.84,178.70 Z" fill="#262626"/>
<line x1="252.20" y1="183.80" x2="252.20" y2="179.20" stroke="#262626" stroke-width="1.0"/>
<path d="M250.60,178.60 L253.80,178.60 L253.16,179.90 L251.24,179.90 Z" fill="#262626"/>
<line x1="267.00" y1="191.90" x2="267.00" y2="191.00" stroke="#262626" stroke-width="1.0"/>
<path d="M265.40,190.40 L268.60,190.40 L267.96,191.70 L266.04,191.70 Z" fill="#262626"/>
<line x1="281.50" y1="189.50" x2="281.50" y2="186.50" stroke="#262626" stroke-width="1.0"/>
<path d="M279.90,185.90 L283.10,185.90 L282.46,187.20 L280.54,187.20 Z" fill="#262626"/>
<line x1="295.90" y1="194.00" x2="295.90" y2="193.20" stroke="#262626" stroke-width="1.0"/>
<path d="M294.30,192.60 L297.50,192.60 L296.86,193.90 L294.94,193.90 Z" fill="#262626"/>
<line x1="208.80" y1="182.00" x2="208.80" y2="179.60" stroke="#262626" stroke-width="1.0"/>
<path d="M207.20,179.00 L210.40,179.00 L209.76,180.30 L207.84,180.30 Z" fill="#262626"/>
<line x1="223.20" y1="152.40" x2="223.20" y2="147.60" stroke="#262626" stroke-width="1.0"/>
<path d="M221.60,147.00 L224.80,147.00 L224.16,148.30 L222.24,148.30 Z" fill="#262626"/>
<line x1="237.70" y1="172.00" x2="237.70" y2="168.00" stroke="#262626" stroke-width="1.0"/>
<path d="M236.10,167.40 L239.30,167.40 L238.66,168.70 L236.74,168.70 Z" fill="#262626"/>
<line x1="252.20" y1="172.00" x2="252.20" y2="167.60" stroke="#262626" stroke-width="1.0"/>
<path d="M250.60,167.00 L253.80,167.00 L253.16,168.30 L251.24,168.30 Z" fill="#262626"/>
<line x1="267.00" y1="171.00" x2="267.00" y2="165.80" stroke="#262626" stroke-width="1.0"/>
<path d="M265.40,165.20 L268.60,165.20 L267.96,166.50 L266.04,166.50 Z" fill="#262626"/>
<line x1="281.50" y1="171.50" x2="281.50" y2="166.20" stroke="#262626" stroke-width="1.0"/>
<path d="M279.90,165.60 L283.10,165.60 L282.46,166.90 L280.54,166.90 Z" fill="#262626"/>
<line x1="295.90" y1="159.30" x2="295.90" y2="150.00" stroke="#262626" stroke-width="1.0"/>
<path d="M294.30,149.40 L297.50,149.40 L296.86,150.70 L294.94,150.70 Z" fill="#262626"/>
<line x1="208.80" y1="188.90" x2="208.80" y2="186.50" stroke="#262626" stroke-width="1.0"/>
<path d="M207.20,185.90 L210.40,185.90 L209.76,187.20 L207.84,187.20 Z" fill="#262626"/>
<line x1="223.20" y1="151.50" x2="223.20" y2="150.80" stroke="#262626" stroke-width="1.0"/>
<path d="M221.60,150.20 L224.80,150.20 L224.16,151.50 L222.24,151.50 Z" fill="#262626"/>
<line x1="237.70" y1="141.50" x2="237.70" y2="140.00" stroke="#262626" stroke-width="1.0"/>
<path d="M236.10,139.40 L239.30,139.40 L238.66,140.70 L236.74,140.70 Z" fill="#262626"/>
<line x1="252.20" y1="134.60" x2="252.20" y2="132.80" stroke="#262626" stroke-width="1.0"/>
<path d="M250.60,132.20 L253.80,132.20 L253.16,133.50 L251.24,133.50 Z" fill="#262626"/>
<circle cx="223.20" cy="143.80" r="0.95" fill="#1a1a1a"/>
<circle cx="250.52" cy="163.50" r="0.95" fill="#1a1a1a"/>
<circle cx="253.88" cy="163.50" r="0.95" fill="#1a1a1a"/>
<circle cx="263.65" cy="161.80" r="0.95" fill="#1a1a1a"/>
<circle cx="267.00" cy="161.80" r="0.95" fill="#1a1a1a"/>
<circle cx="270.35" cy="161.80" r="0.95" fill="#1a1a1a"/>
<circle cx="281.50" cy="162.30" r="0.95" fill="#1a1a1a"/>
<circle cx="294.22" cy="146.20" r="0.95" fill="#1a1a1a"/>
<circle cx="297.57" cy="146.20" r="0.95" fill="#1a1a1a"/>
<text transform="translate(165.20,163.10) rotate(-90)" x="0" y="0" font-size="9.0" text-anchor="middle" fill="#1e1e1e" stroke="#1e1e1e" stroke-width="0.24" textLength="57.20" lengthAdjust="spacingAndGlyphs">Average radiance</text>
<text transform="translate(177.60,161.60) rotate(-90)" x="0" y="0" font-size="8.4" text-anchor="middle" fill="#1e1e1e" stroke="#1e1e1e" stroke-width="0.24" textLength="40.60" lengthAdjust="spacingAndGlyphs">[p/s/cm<tspan baseline-shift="3.2" font-size="5.8">2</tspan>/sr]</text>
<text x="210.50" y="223.30" font-size="9.6" text-anchor="start" fill="#1e1e1e" stroke="#1e1e1e" stroke-width="0.2" textLength="84.50" lengthAdjust="spacingAndGlyphs">Days post CAR-T injection</text>
<line x1="187.30" y1="248.70" x2="195.80" y2="248.70" stroke="#dc1f52" stroke-width="1.5"/>
<text x="199.80" y="250.60" font-size="7.2" text-anchor="start" fill="#262626" stroke="#262626" stroke-width="0.2" textLength="53.20" lengthAdjust="spacingAndGlyphs">3×10<tspan baseline-shift="3.0" font-size="4.8">5</tspan> N1 CD4+</text>
<text x="199.80" y="259.80" font-size="7.2" text-anchor="start" fill="#262626" stroke="#262626" stroke-width="0.2" textLength="69.00" lengthAdjust="spacingAndGlyphs">3×10<tspan baseline-shift="3.0" font-size="4.8">5</tspan> Control CD8+</text>
<line x1="187.30" y1="269.80" x2="195.80" y2="269.80" stroke="#1d5e82" stroke-width="1.5"/>
<text x="199.80" y="271.70" font-size="7.2" text-anchor="start" fill="#262626" stroke="#262626" stroke-width="0.2" textLength="69.00" lengthAdjust="spacingAndGlyphs">3×10<tspan baseline-shift="3.0" font-size="4.8">5</tspan> Control CD4+</text>
<text x="199.80" y="280.90" font-size="7.2" text-anchor="start" fill="#262626" stroke="#262626" stroke-width="0.2" textLength="67.70" lengthAdjust="spacingAndGlyphs">3×10<tspan baseline-shift="3.0" font-size="4.8">5</tspan> control CD8+</text>
<line x1="187.30" y1="291.50" x2="195.80" y2="291.50" stroke="#22b35f" stroke-width="1.5"/>
<text x="199.80" y="294.20" font-size="7.2" text-anchor="start" fill="#262626" stroke="#262626" stroke-width="0.2" textLength="12.90" lengthAdjust="spacingAndGlyphs">PBS</text>
<text x="397.60" y="175.30" font-size="9.8" text-anchor="start" fill="#231f20" stroke="#231f20" stroke-width="0.2" textLength="26.80" lengthAdjust="spacingAndGlyphs">Day 34</text>
<rect x="347.40" y="181.20" width="127.80" height="35.30" fill="url(#bgg)"/>
<g filter="url(#bl)">
<path d="M354.50,214.76 C353.72,214.53 350.76,214.03 349.81,213.41 C348.87,212.78 349.01,212.16 348.82,211.03 C348.63,209.90 348.68,208.49 348.68,206.62 C348.68,204.76 348.75,201.82 348.82,199.84 C348.89,197.87 348.94,196.06 349.10,194.76 C349.27,193.46 349.48,192.90 349.81,192.05 C350.15,191.20 350.64,190.52 351.09,189.67 C351.54,188.83 352.16,187.92 352.51,186.96 C352.87,186.00 352.75,184.87 353.22,183.91 C353.70,182.95 354.93,181.20 355.35,181.20 C355.78,181.20 355.59,182.95 355.78,183.91 C355.97,184.87 356.13,186.00 356.49,186.96 C356.84,187.92 357.46,188.83 357.91,189.67 C358.36,190.52 358.85,191.20 359.19,192.05 C359.52,192.90 359.73,193.46 359.90,194.76 C360.06,196.06 360.11,197.87 360.18,199.84 C360.25,201.82 360.32,204.76 360.32,206.62 C360.32,208.49 360.37,209.90 360.18,211.03 C359.99,212.16 360.13,212.78 359.19,213.41 C358.24,214.03 355.28,214.53 354.50,214.76 Z" fill="url(#mg)"/>
<path d="M354.50,214.76 C353.72,214.53 350.76,214.03 349.81,213.41 C348.87,212.78 349.01,212.16 348.82,211.03 C348.63,209.90 348.68,208.49 348.68,206.62 C348.68,204.76 348.75,201.82 348.82,199.84 C348.89,197.87 348.94,196.06 349.10,194.76 C349.27,193.46 349.48,192.90 349.81,192.05 C350.15,191.20 350.64,190.52 351.09,189.67 C351.54,188.83 352.16,187.92 352.51,186.96 C352.87,186.00 352.75,184.87 353.22,183.91 C353.70,182.95 354.93,181.20 355.35,181.20 C355.78,181.20 355.59,182.95 355.78,183.91 C355.97,184.87 356.13,186.00 356.49,186.96 C356.84,187.92 357.46,188.83 357.91,189.67 C358.36,190.52 358.85,191.20 359.19,192.05 C359.52,192.90 359.73,193.46 359.90,194.76 C360.06,196.06 360.11,197.87 360.18,199.84 C360.25,201.82 360.32,204.76 360.32,206.62 C360.32,208.49 360.37,209.90 360.18,211.03 C359.99,212.16 360.13,212.78 359.19,213.41 C358.24,214.03 355.28,214.53 354.50,214.76 Z" fill="#000" filter="url(#fur)"/>
<ellipse cx="350.95" cy="215.50" rx="1.42" ry="0.8" fill="#777"/>
<ellipse cx="358.05" cy="215.50" rx="1.42" ry="0.8" fill="#777"/>
<path d="M368.70,214.76 C367.92,214.53 364.96,214.03 364.01,213.41 C363.07,212.78 363.21,212.16 363.02,211.03 C362.83,209.90 362.88,208.49 362.88,206.62 C362.88,204.76 362.95,201.82 363.02,199.84 C363.09,197.87 363.14,196.06 363.30,194.76 C363.47,193.46 363.68,192.90 364.01,192.05 C364.35,191.20 364.84,190.52 365.29,189.67 C365.74,188.83 366.36,187.92 366.71,186.96 C367.07,186.00 366.95,184.87 367.42,183.91 C367.90,182.95 369.13,181.20 369.55,181.20 C369.98,181.20 369.79,182.95 369.98,183.91 C370.17,184.87 370.33,186.00 370.69,186.96 C371.04,187.92 371.66,188.83 372.11,189.67 C372.56,190.52 373.05,191.20 373.39,192.05 C373.72,192.90 373.93,193.46 374.10,194.76 C374.26,196.06 374.31,197.87 374.38,199.84 C374.45,201.82 374.52,204.76 374.52,206.62 C374.52,208.49 374.57,209.90 374.38,211.03 C374.19,212.16 374.33,212.78 373.39,213.41 C372.44,214.03 369.48,214.53 368.70,214.76 Z" fill="url(#mg)"/>
<path d="M368.70,214.76 C367.92,214.53 364.96,214.03 364.01,213.41 C363.07,212.78 363.21,212.16 363.02,211.03 C362.83,209.90 362.88,208.49 362.88,206.62 C362.88,204.76 362.95,201.82 363.02,199.84 C363.09,197.87 363.14,196.06 363.30,194.76 C363.47,193.46 363.68,192.90 364.01,192.05 C364.35,191.20 364.84,190.52 365.29,189.67 C365.74,188.83 366.36,187.92 366.71,186.96 C367.07,186.00 366.95,184.87 367.42,183.91 C367.90,182.95 369.13,181.20 369.55,181.20 C369.98,181.20 369.79,182.95 369.98,183.91 C370.17,184.87 370.33,186.00 370.69,186.96 C371.04,187.92 371.66,188.83 372.11,189.67 C372.56,190.52 373.05,191.20 373.39,192.05 C373.72,192.90 373.93,193.46 374.10,194.76 C374.26,196.06 374.31,197.87 374.38,199.84 C374.45,201.82 374.52,204.76 374.52,206.62 C374.52,208.49 374.57,209.90 374.38,211.03 C374.19,212.16 374.33,212.78 373.39,213.41 C372.44,214.03 369.48,214.53 368.70,214.76 Z" fill="#000" filter="url(#fur)"/>
<ellipse cx="365.15" cy="215.50" rx="1.42" ry="0.8" fill="#777"/>
<ellipse cx="372.25" cy="215.50" rx="1.42" ry="0.8" fill="#777"/>
<path d="M382.90,214.76 C382.12,214.53 379.16,214.03 378.21,213.41 C377.27,212.78 377.41,212.16 377.22,211.03 C377.03,209.90 377.08,208.49 377.08,206.62 C377.08,204.76 377.15,201.82 377.22,199.84 C377.29,197.87 377.34,196.06 377.50,194.76 C377.67,193.46 377.88,192.90 378.21,192.05 C378.55,191.20 379.04,190.52 379.49,189.67 C379.94,188.83 380.56,187.92 380.91,186.96 C381.27,186.00 381.15,184.87 381.62,183.91 C382.10,182.95 383.33,181.20 383.75,181.20 C384.18,181.20 383.99,182.95 384.18,183.91 C384.37,184.87 384.53,186.00 384.89,186.96 C385.24,187.92 385.86,188.83 386.31,189.67 C386.76,190.52 387.25,191.20 387.59,192.05 C387.92,192.90 388.13,193.46 388.30,194.76 C388.46,196.06 388.51,197.87 388.58,199.84 C388.65,201.82 388.72,204.76 388.72,206.62 C388.72,208.49 388.77,209.90 388.58,211.03 C388.39,212.16 388.53,212.78 387.59,213.41 C386.64,214.03 383.68,214.53 382.90,214.76 Z" fill="url(#mg)"/>
<path d="M382.90,214.76 C382.12,214.53 379.16,214.03 378.21,213.41 C377.27,212.78 377.41,212.16 377.22,211.03 C377.03,209.90 377.08,208.49 377.08,206.62 C377.08,204.76 377.15,201.82 377.22,199.84 C377.29,197.87 377.34,196.06 377.50,194.76 C377.67,193.46 377.88,192.90 378.21,192.05 C378.55,191.20 379.04,190.52 379.49,189.67 C379.94,188.83 380.56,187.92 380.91,186.96 C381.27,186.00 381.15,184.87 381.62,183.91 C382.10,182.95 383.33,181.20 383.75,181.20 C384.18,181.20 383.99,182.95 384.18,183.91 C384.37,184.87 384.53,186.00 384.89,186.96 C385.24,187.92 385.86,188.83 386.31,189.67 C386.76,190.52 387.25,191.20 387.59,192.05 C387.92,192.90 388.13,193.46 388.30,194.76 C388.46,196.06 388.51,197.87 388.58,199.84 C388.65,201.82 388.72,204.76 388.72,206.62 C388.72,208.49 388.77,209.90 388.58,211.03 C388.39,212.16 388.53,212.78 387.59,213.41 C386.64,214.03 383.68,214.53 382.90,214.76 Z" fill="#000" filter="url(#fur)"/>
<ellipse cx="379.35" cy="215.50" rx="1.42" ry="0.8" fill="#777"/>
<ellipse cx="386.45" cy="215.50" rx="1.42" ry="0.8" fill="#777"/>
<path d="M397.10,214.76 C396.32,214.53 393.36,214.03 392.41,213.41 C391.47,212.78 391.61,212.16 391.42,211.03 C391.23,209.90 391.28,208.49 391.28,206.62 C391.28,204.76 391.35,201.82 391.42,199.84 C391.49,197.87 391.54,196.06 391.70,194.76 C391.87,193.46 392.08,192.90 392.41,192.05 C392.75,191.20 393.24,190.52 393.69,189.67 C394.14,188.83 394.76,187.92 395.11,186.96 C395.47,186.00 395.35,184.87 395.82,183.91 C396.30,182.95 397.53,181.20 397.95,181.20 C398.38,181.20 398.19,182.95 398.38,183.91 C398.57,184.87 398.73,186.00 399.09,186.96 C399.44,187.92 400.06,188.83 400.51,189.67 C400.96,190.52 401.45,191.20 401.79,192.05 C402.12,192.90 402.33,193.46 402.50,194.76 C402.66,196.06 402.71,197.87 402.78,199.84 C402.85,201.82 402.92,204.76 402.92,206.62 C402.92,208.49 402.97,209.90 402.78,211.03 C402.59,212.16 402.73,212.78 401.79,213.41 C400.84,214.03 397.88,214.53 397.10,214.76 Z" fill="url(#mg)"/>
<path d="M397.10,214.76 C396.32,214.53 393.36,214.03 392.41,213.41 C391.47,212.78 391.61,212.16 391.42,211.03 C391.23,209.90 391.28,208.49 391.28,206.62 C391.28,204.76 391.35,201.82 391.42,199.84 C391.49,197.87 391.54,196.06 391.70,194.76 C391.87,193.46 392.08,192.90 392.41,192.05 C392.75,191.20 393.24,190.52 393.69,189.67 C394.14,188.83 394.76,187.92 395.11,186.96 C395.47,186.00 395.35,184.87 395.82,183.91 C396.30,182.95 397.53,181.20 397.95,181.20 C398.38,181.20 398.19,182.95 398.38,183.91 C398.57,184.87 398.73,186.00 399.09,186.96 C399.44,187.92 400.06,188.83 400.51,189.67 C400.96,190.52 401.45,191.20 401.79,192.05 C402.12,192.90 402.33,193.46 402.50,194.76 C402.66,196.06 402.71,197.87 402.78,199.84 C402.85,201.82 402.92,204.76 402.92,206.62 C402.92,208.49 402.97,209.90 402.78,211.03 C402.59,212.16 402.73,212.78 401.79,213.41 C400.84,214.03 397.88,214.53 397.10,214.76 Z" fill="#000" filter="url(#fur)"/>
<ellipse cx="393.55" cy="215.50" rx="1.42" ry="0.8" fill="#777"/>
<ellipse cx="400.65" cy="215.50" rx="1.42" ry="0.8" fill="#777"/>
<path d="M411.30,214.76 C410.52,214.53 407.56,214.03 406.61,213.41 C405.67,212.78 405.81,212.16 405.62,211.03 C405.43,209.90 405.48,208.49 405.48,206.62 C405.48,204.76 405.55,201.82 405.62,199.84 C405.69,197.87 405.74,196.06 405.90,194.76 C406.07,193.46 406.28,192.90 406.61,192.05 C406.95,191.20 407.44,190.52 407.89,189.67 C408.34,188.83 408.96,187.92 409.31,186.96 C409.67,186.00 409.55,184.87 410.02,183.91 C410.50,182.95 411.73,181.20 412.15,181.20 C412.58,181.20 412.39,182.95 412.58,183.91 C412.77,184.87 412.93,186.00 413.29,186.96 C413.64,187.92 414.26,188.83 414.71,189.67 C415.16,190.52 415.65,191.20 415.99,192.05 C416.32,192.90 416.53,193.46 416.70,194.76 C416.86,196.06 416.91,197.87 416.98,199.84 C417.05,201.82 417.12,204.76 417.12,206.62 C417.12,208.49 417.17,209.90 416.98,211.03 C416.79,212.16 416.93,212.78 415.99,213.41 C415.04,214.03 412.08,214.53 411.30,214.76 Z" fill="url(#mg)"/>
<path d="M411.30,214.76 C410.52,214.53 407.56,214.03 406.61,213.41 C405.67,212.78 405.81,212.16 405.62,211.03 C405.43,209.90 405.48,208.49 405.48,206.62 C405.48,204.76 405.55,201.82 405.62,199.84 C405.69,197.87 405.74,196.06 405.90,194.76 C406.07,193.46 406.28,192.90 406.61,192.05 C406.95,191.20 407.44,190.52 407.89,189.67 C408.34,188.83 408.96,187.92 409.31,186.96 C409.67,186.00 409.55,184.87 410.02,183.91 C410.50,182.95 411.73,181.20 412.15,181.20 C412.58,181.20 412.39,182.95 412.58,183.91 C412.77,184.87 412.93,186.00 413.29,186.96 C413.64,187.92 414.26,188.83 414.71,189.67 C415.16,190.52 415.65,191.20 415.99,192.05 C416.32,192.90 416.53,193.46 416.70,194.76 C416.86,196.06 416.91,197.87 416.98,199.84 C417.05,201.82 417.12,204.76 417.12,206.62 C417.12,208.49 417.17,209.90 416.98,211.03 C416.79,212.16 416.93,212.78 415.99,213.41 C415.04,214.03 412.08,214.53 411.30,214.76 Z" fill="#000" filter="url(#fur)"/>
<ellipse cx="407.75" cy="215.50" rx="1.42" ry="0.8" fill="#777"/>
<ellipse cx="414.85" cy="215.50" rx="1.42" ry="0.8" fill="#777"/>
<path d="M425.50,214.76 C424.72,214.53 421.76,214.03 420.81,213.41 C419.87,212.78 420.01,212.16 419.82,211.03 C419.63,209.90 419.68,208.49 419.68,206.62 C419.68,204.76 419.75,201.82 419.82,199.84 C419.89,197.87 419.94,196.06 420.10,194.76 C420.27,193.46 420.48,192.90 420.81,192.05 C421.15,191.20 421.64,190.52 422.09,189.67 C422.54,188.83 423.16,187.92 423.51,186.96 C423.87,186.00 423.75,184.87 424.22,183.91 C424.70,182.95 425.93,181.20 426.35,181.20 C426.78,181.20 426.59,182.95 426.78,183.91 C426.97,184.87 427.13,186.00 427.49,186.96 C427.84,187.92 428.46,188.83 428.91,189.67 C429.36,190.52 429.85,191.20 430.19,192.05 C430.52,192.90 430.73,193.46 430.90,194.76 C431.06,196.06 431.11,197.87 431.18,199.84 C431.25,201.82 431.32,204.76 431.32,206.62 C431.32,208.49 431.37,209.90 431.18,211.03 C430.99,212.16 431.13,212.78 430.19,213.41 C429.24,214.03 426.28,214.53 425.50,214.76 Z" fill="url(#mg)"/>
<path d="M425.50,214.76 C424.72,214.53 421.76,214.03 420.81,213.41 C419.87,212.78 420.01,212.16 419.82,211.03 C419.63,209.90 419.68,208.49 419.68,206.62 C419.68,204.76 419.75,201.82 419.82,199.84 C419.89,197.87 419.94,196.06 420.10,194.76 C420.27,193.46 420.48,192.90 420.81,192.05 C421.15,191.20 421.64,190.52 422.09,189.67 C422.54,188.83 423.16,187.92 423.51,186.96 C423.87,186.00 423.75,184.87 424.22,183.91 C424.70,182.95 425.93,181.20 426.35,181.20 C426.78,181.20 426.59,182.95 426.78,183.91 C426.97,184.87 427.13,186.00 427.49,186.96 C427.84,187.92 428.46,188.83 428.91,189.67 C429.36,190.52 429.85,191.20 430.19,192.05 C430.52,192.90 430.73,193.46 430.90,194.76 C431.06,196.06 431.11,197.87 431.18,199.84 C431.25,201.82 431.32,204.76 431.32,206.62 C431.32,208.49 431.37,209.90 431.18,211.03 C430.99,212.16 431.13,212.78 430.19,213.41 C429.24,214.03 426.28,214.53 425.50,214.76 Z" fill="#000" filter="url(#fur)"/>
<ellipse cx="421.95" cy="215.50" rx="1.42" ry="0.8" fill="#777"/>
<ellipse cx="429.05" cy="215.50" rx="1.42" ry="0.8" fill="#777"/>
<path d="M439.70,214.76 C438.92,214.53 435.96,214.03 435.01,213.41 C434.07,212.78 434.21,212.16 434.02,211.03 C433.83,209.90 433.88,208.49 433.88,206.62 C433.88,204.76 433.95,201.82 434.02,199.84 C434.09,197.87 434.14,196.06 434.30,194.76 C434.47,193.46 434.68,192.90 435.01,192.05 C435.35,191.20 435.84,190.52 436.29,189.67 C436.74,188.83 437.36,187.92 437.71,186.96 C438.07,186.00 437.95,184.87 438.42,183.91 C438.90,182.95 440.13,181.20 440.55,181.20 C440.98,181.20 440.79,182.95 440.98,183.91 C441.17,184.87 441.33,186.00 441.69,186.96 C442.04,187.92 442.66,188.83 443.11,189.67 C443.56,190.52 444.05,191.20 444.39,192.05 C444.72,192.90 444.93,193.46 445.10,194.76 C445.26,196.06 445.31,197.87 445.38,199.84 C445.45,201.82 445.52,204.76 445.52,206.62 C445.52,208.49 445.57,209.90 445.38,211.03 C445.19,212.16 445.33,212.78 444.39,213.41 C443.44,214.03 440.48,214.53 439.70,214.76 Z" fill="url(#mg)"/>
<path d="M439.70,214.76 C438.92,214.53 435.96,214.03 435.01,213.41 C434.07,212.78 434.21,212.16 434.02,211.03 C433.83,209.90 433.88,208.49 433.88,206.62 C433.88,204.76 433.95,201.82 434.02,199.84 C434.09,197.87 434.14,196.06 434.30,194.76 C434.47,193.46 434.68,192.90 435.01,192.05 C435.35,191.20 435.84,190.52 436.29,189.67 C436.74,188.83 437.36,187.92 437.71,186.96 C438.07,186.00 437.95,184.87 438.42,183.91 C438.90,182.95 440.13,181.20 440.55,181.20 C440.98,181.20 440.79,182.95 440.98,183.91 C441.17,184.87 441.33,186.00 441.69,186.96 C442.04,187.92 442.66,188.83 443.11,189.67 C443.56,190.52 444.05,191.20 444.39,192.05 C444.72,192.90 444.93,193.46 445.10,194.76 C445.26,196.06 445.31,197.87 445.38,199.84 C445.45,201.82 445.52,204.76 445.52,206.62 C445.52,208.49 445.57,209.90 445.38,211.03 C445.19,212.16 445.33,212.78 444.39,213.41 C443.44,214.03 440.48,214.53 439.70,214.76 Z" fill="#000" filter="url(#fur)"/>
<ellipse cx="436.15" cy="215.50" rx="1.42" ry="0.8" fill="#777"/>
<ellipse cx="443.25" cy="215.50" rx="1.42" ry="0.8" fill="#777"/>
<path d="M453.90,214.76 C453.12,214.53 450.16,214.03 449.21,213.41 C448.27,212.78 448.41,212.16 448.22,211.03 C448.03,209.90 448.08,208.49 448.08,206.62 C448.08,204.76 448.15,201.82 448.22,199.84 C448.29,197.87 448.34,196.06 448.50,194.76 C448.67,193.46 448.88,192.90 449.21,192.05 C449.55,191.20 450.04,190.52 450.49,189.67 C450.94,188.83 451.56,187.92 451.91,186.96 C452.27,186.00 452.15,184.87 452.62,183.91 C453.10,182.95 454.33,181.20 454.75,181.20 C455.18,181.20 454.99,182.95 455.18,183.91 C455.37,184.87 455.53,186.00 455.89,186.96 C456.24,187.92 456.86,188.83 457.31,189.67 C457.76,190.52 458.25,191.20 458.59,192.05 C458.92,192.90 459.13,193.46 459.30,194.76 C459.46,196.06 459.51,197.87 459.58,199.84 C459.65,201.82 459.72,204.76 459.72,206.62 C459.72,208.49 459.77,209.90 459.58,211.03 C459.39,212.16 459.53,212.78 458.59,213.41 C457.64,214.03 454.68,214.53 453.90,214.76 Z" fill="url(#mg)"/>
<path d="M453.90,214.76 C453.12,214.53 450.16,214.03 449.21,213.41 C448.27,212.78 448.41,212.16 448.22,211.03 C448.03,209.90 448.08,208.49 448.08,206.62 C448.08,204.76 448.15,201.82 448.22,199.84 C448.29,197.87 448.34,196.06 448.50,194.76 C448.67,193.46 448.88,192.90 449.21,192.05 C449.55,191.20 450.04,190.52 450.49,189.67 C450.94,188.83 451.56,187.92 451.91,186.96 C452.27,186.00 452.15,184.87 452.62,183.91 C453.10,182.95 454.33,181.20 454.75,181.20 C455.18,181.20 454.99,182.95 455.18,183.91 C455.37,184.87 455.53,186.00 455.89,186.96 C456.24,187.92 456.86,188.83 457.31,189.67 C457.76,190.52 458.25,191.20 458.59,192.05 C458.92,192.90 459.13,193.46 459.30,194.76 C459.46,196.06 459.51,197.87 459.58,199.84 C459.65,201.82 459.72,204.76 459.72,206.62 C459.72,208.49 459.77,209.90 459.58,211.03 C459.39,212.16 459.53,212.78 458.59,213.41 C457.64,214.03 454.68,214.53 453.90,214.76 Z" fill="#000" filter="url(#fur)"/>
<ellipse cx="450.35" cy="215.50" rx="1.42" ry="0.8" fill="#777"/>
<ellipse cx="457.45" cy="215.50" rx="1.42" ry="0.8" fill="#777"/>
<path d="M468.10,214.76 C467.32,214.53 464.36,214.03 463.41,213.41 C462.47,212.78 462.61,212.16 462.42,211.03 C462.23,209.90 462.28,208.49 462.28,206.62 C462.28,204.76 462.35,201.82 462.42,199.84 C462.49,197.87 462.54,196.06 462.70,194.76 C462.87,193.46 463.08,192.90 463.41,192.05 C463.75,191.20 464.24,190.52 464.69,189.67 C465.14,188.83 465.76,187.92 466.11,186.96 C466.47,186.00 466.35,184.87 466.82,183.91 C467.30,182.95 468.53,181.20 468.95,181.20 C469.38,181.20 469.19,182.95 469.38,183.91 C469.57,184.87 469.73,186.00 470.09,186.96 C470.44,187.92 471.06,188.83 471.51,189.67 C471.96,190.52 472.45,191.20 472.79,192.05 C473.12,192.90 473.33,193.46 473.50,194.76 C473.66,196.06 473.71,197.87 473.78,199.84 C473.85,201.82 473.92,204.76 473.92,206.62 C473.92,208.49 473.97,209.90 473.78,211.03 C473.59,212.16 473.73,212.78 472.79,213.41 C471.84,214.03 468.88,214.53 468.10,214.76 Z" fill="url(#mg)"/>
<path d="M468.10,214.76 C467.32,214.53 464.36,214.03 463.41,213.41 C462.47,212.78 462.61,212.16 462.42,211.03 C462.23,209.90 462.28,208.49 462.28,206.62 C462.28,204.76 462.35,201.82 462.42,199.84 C462.49,197.87 462.54,196.06 462.70,194.76 C462.87,193.46 463.08,192.90 463.41,192.05 C463.75,191.20 464.24,190.52 464.69,189.67 C465.14,188.83 465.76,187.92 466.11,186.96 C466.47,186.00 466.35,184.87 466.82,183.91 C467.30,182.95 468.53,181.20 468.95,181.20 C469.38,181.20 469.19,182.95 469.38,183.91 C469.57,184.87 469.73,186.00 470.09,186.96 C470.44,187.92 471.06,188.83 471.51,189.67 C471.96,190.52 472.45,191.20 472.79,192.05 C473.12,192.90 473.33,193.46 473.50,194.76 C473.66,196.06 473.71,197.87 473.78,199.84 C473.85,201.82 473.92,204.76 473.92,206.62 C473.92,208.49 473.97,209.90 473.78,211.03 C473.59,212.16 473.73,212.78 472.79,213.41 C471.84,214.03 468.88,214.53 468.10,214.76 Z" fill="#000" filter="url(#fur)"/>
<ellipse cx="464.55" cy="215.50" rx="1.42" ry="0.8" fill="#777"/>
<ellipse cx="471.65" cy="215.50" rx="1.42" ry="0.8" fill="#777"/>
</g>
<rect x="347.40" y="217.80" width="127.80" height="35.60" fill="url(#bgg)"/>
<g filter="url(#bl)">
<path d="M354.50,251.66 C353.72,251.43 350.76,250.92 349.81,250.29 C348.87,249.66 349.01,249.04 348.82,247.90 C348.63,246.76 348.68,245.33 348.68,243.45 C348.68,241.57 348.75,238.61 348.82,236.61 C348.89,234.62 348.94,232.79 349.10,231.48 C349.27,230.17 349.48,229.60 349.81,228.74 C350.15,227.89 350.64,227.21 351.09,226.35 C351.54,225.50 352.16,224.58 352.51,223.61 C352.87,222.65 352.75,221.50 353.22,220.54 C353.70,219.57 354.93,217.80 355.35,217.80 C355.78,217.80 355.59,219.57 355.78,220.54 C355.97,221.50 356.13,222.65 356.49,223.61 C356.84,224.58 357.46,225.50 357.91,226.35 C358.36,227.21 358.85,227.89 359.19,228.74 C359.52,229.60 359.73,230.17 359.90,231.48 C360.06,232.79 360.11,234.62 360.18,236.61 C360.25,238.61 360.32,241.57 360.32,243.45 C360.32,245.33 360.37,246.76 360.18,247.90 C359.99,249.04 360.13,249.66 359.19,250.29 C358.24,250.92 355.28,251.43 354.50,251.66 Z" fill="url(#mg)"/>
<path d="M354.50,251.66 C353.72,251.43 350.76,250.92 349.81,250.29 C348.87,249.66 349.01,249.04 348.82,247.90 C348.63,246.76 348.68,245.33 348.68,243.45 C348.68,241.57 348.75,238.61 348.82,236.61 C348.89,234.62 348.94,232.79 349.10,231.48 C349.27,230.17 349.48,229.60 349.81,228.74 C350.15,227.89 350.64,227.21 351.09,226.35 C351.54,225.50 352.16,224.58 352.51,223.61 C352.87,222.65 352.75,221.50 353.22,220.54 C353.70,219.57 354.93,217.80 355.35,217.80 C355.78,217.80 355.59,219.57 355.78,220.54 C355.97,221.50 356.13,222.65 356.49,223.61 C356.84,224.58 357.46,225.50 357.91,226.35 C358.36,227.21 358.85,227.89 359.19,228.74 C359.52,229.60 359.73,230.17 359.90,231.48 C360.06,232.79 360.11,234.62 360.18,236.61 C360.25,238.61 360.32,241.57 360.32,243.45 C360.32,245.33 360.37,246.76 360.18,247.90 C359.99,249.04 360.13,249.66 359.19,250.29 C358.24,250.92 355.28,251.43 354.50,251.66 Z" fill="#000" filter="url(#fur)"/>
<ellipse cx="350.95" cy="252.40" rx="1.42" ry="0.8" fill="#777"/>
<ellipse cx="358.05" cy="252.40" rx="1.42" ry="0.8" fill="#777"/>
<path d="M368.70,251.66 C367.92,251.43 364.96,250.92 364.01,250.29 C363.07,249.66 363.21,249.04 363.02,247.90 C362.83,246.76 362.88,245.33 362.88,243.45 C362.88,241.57 362.95,238.61 363.02,236.61 C363.09,234.62 363.14,232.79 363.30,231.48 C363.47,230.17 363.68,229.60 364.01,228.74 C364.35,227.89 364.84,227.21 365.29,226.35 C365.74,225.50 366.36,224.58 366.71,223.61 C367.07,222.65 366.95,221.50 367.42,220.54 C367.90,219.57 369.13,217.80 369.55,217.80 C369.98,217.80 369.79,219.57 369.98,220.54 C370.17,221.50 370.33,222.65 370.69,223.61 C371.04,224.58 371.66,225.50 372.11,226.35 C372.56,227.21 373.05,227.89 373.39,228.74 C373.72,229.60 373.93,230.17 374.10,231.48 C374.26,232.79 374.31,234.62 374.38,236.61 C374.45,238.61 374.52,241.57 374.52,243.45 C374.52,245.33 374.57,246.76 374.38,247.90 C374.19,249.04 374.33,249.66 373.39,250.29 C372.44,250.92 369.48,251.43 368.70,251.66 Z" fill="url(#mg)"/>
<path d="M368.70,251.66 C367.92,251.43 364.96,250.92 364.01,250.29 C363.07,249.66 363.21,249.04 363.02,247.90 C362.83,246.76 362.88,245.33 362.88,243.45 C362.88,241.57 362.95,238.61 363.02,236.61 C363.09,234.62 363.14,232.79 363.30,231.48 C363.47,230.17 363.68,229.60 364.01,228.74 C364.35,227.89 364.84,227.21 365.29,226.35 C365.74,225.50 366.36,224.58 366.71,223.61 C367.07,222.65 366.95,221.50 367.42,220.54 C367.90,219.57 369.13,217.80 369.55,217.80 C369.98,217.80 369.79,219.57 369.98,220.54 C370.17,221.50 370.33,222.65 370.69,223.61 C371.04,224.58 371.66,225.50 372.11,226.35 C372.56,227.21 373.05,227.89 373.39,228.74 C373.72,229.60 373.93,230.17 374.10,231.48 C374.26,232.79 374.31,234.62 374.38,236.61 C374.45,238.61 374.52,241.57 374.52,243.45 C374.52,245.33 374.57,246.76 374.38,247.90 C374.19,249.04 374.33,249.66 373.39,250.29 C372.44,250.92 369.48,251.43 368.70,251.66 Z" fill="#000" filter="url(#fur)"/>
<ellipse cx="365.15" cy="252.40" rx="1.42" ry="0.8" fill="#777"/>
<ellipse cx="372.25" cy="252.40" rx="1.42" ry="0.8" fill="#777"/>
<path d="M382.90,251.66 C382.12,251.43 379.16,250.92 378.21,250.29 C377.27,249.66 377.41,249.04 377.22,247.90 C377.03,246.76 377.08,245.33 377.08,243.45 C377.08,241.57 377.15,238.61 377.22,236.61 C377.29,234.62 377.34,232.79 377.50,231.48 C377.67,230.17 377.88,229.60 378.21,228.74 C378.55,227.89 379.04,227.21 379.49,226.35 C379.94,225.50 380.56,224.58 380.91,223.61 C381.27,222.65 381.15,221.50 381.62,220.54 C382.10,219.57 383.33,217.80 383.75,217.80 C384.18,217.80 383.99,219.57 384.18,220.54 C384.37,221.50 384.53,222.65 384.89,223.61 C385.24,224.58 385.86,225.50 386.31,226.35 C386.76,227.21 387.25,227.89 387.59,228.74 C387.92,229.60 388.13,230.17 388.30,231.48 C388.46,232.79 388.51,234.62 388.58,236.61 C388.65,238.61 388.72,241.57 388.72,243.45 C388.72,245.33 388.77,246.76 388.58,247.90 C388.39,249.04 388.53,249.66 387.59,250.29 C386.64,250.92 383.68,251.43 382.90,251.66 Z" fill="url(#mg)"/>
<path d="M382.90,251.66 C382.12,251.43 379.16,250.92 378.21,250.29 C377.27,249.66 377.41,249.04 377.22,247.90 C377.03,246.76 377.08,245.33 377.08,243.45 C377.08,241.57 377.15,238.61 377.22,236.61 C377.29,234.62 377.34,232.79 377.50,231.48 C377.67,230.17 377.88,229.60 378.21,228.74 C378.55,227.89 379.04,227.21 379.49,226.35 C379.94,225.50 380.56,224.58 380.91,223.61 C381.27,222.65 381.15,221.50 381.62,220.54 C382.10,219.57 383.33,217.80 383.75,217.80 C384.18,217.80 383.99,219.57 384.18,220.54 C384.37,221.50 384.53,222.65 384.89,223.61 C385.24,224.58 385.86,225.50 386.31,226.35 C386.76,227.21 387.25,227.89 387.59,228.74 C387.92,229.60 388.13,230.17 388.30,231.48 C388.46,232.79 388.51,234.62 388.58,236.61 C388.65,238.61 388.72,241.57 388.72,243.45 C388.72,245.33 388.77,246.76 388.58,247.90 C388.39,249.04 388.53,249.66 387.59,250.29 C386.64,250.92 383.68,251.43 382.90,251.66 Z" fill="#000" filter="url(#fur)"/>
<ellipse cx="379.35" cy="252.40" rx="1.42" ry="0.8" fill="#777"/>
<ellipse cx="386.45" cy="252.40" rx="1.42" ry="0.8" fill="#777"/>
<path d="M397.10,251.66 C396.32,251.43 393.36,250.92 392.41,250.29 C391.47,249.66 391.61,249.04 391.42,247.90 C391.23,246.76 391.28,245.33 391.28,243.45 C391.28,241.57 391.35,238.61 391.42,236.61 C391.49,234.62 391.54,232.79 391.70,231.48 C391.87,230.17 392.08,229.60 392.41,228.74 C392.75,227.89 393.24,227.21 393.69,226.35 C394.14,225.50 394.76,224.58 395.11,223.61 C395.47,222.65 395.35,221.50 395.82,220.54 C396.30,219.57 397.53,217.80 397.95,217.80 C398.38,217.80 398.19,219.57 398.38,220.54 C398.57,221.50 398.73,222.65 399.09,223.61 C399.44,224.58 400.06,225.50 400.51,226.35 C400.96,227.21 401.45,227.89 401.79,228.74 C402.12,229.60 402.33,230.17 402.50,231.48 C402.66,232.79 402.71,234.62 402.78,236.61 C402.85,238.61 402.92,241.57 402.92,243.45 C402.92,245.33 402.97,246.76 402.78,247.90 C402.59,249.04 402.73,249.66 401.79,250.29 C400.84,250.92 397.88,251.43 397.10,251.66 Z" fill="url(#mg)"/>
<path d="M397.10,251.66 C396.32,251.43 393.36,250.92 392.41,250.29 C391.47,249.66 391.61,249.04 391.42,247.90 C391.23,246.76 391.28,245.33 391.28,243.45 C391.28,241.57 391.35,238.61 391.42,236.61 C391.49,234.62 391.54,232.79 391.70,231.48 C391.87,230.17 392.08,229.60 392.41,228.74 C392.75,227.89 393.24,227.21 393.69,226.35 C394.14,225.50 394.76,224.58 395.11,223.61 C395.47,222.65 395.35,221.50 395.82,220.54 C396.30,219.57 397.53,217.80 397.95,217.80 C398.38,217.80 398.19,219.57 398.38,220.54 C398.57,221.50 398.73,222.65 399.09,223.61 C399.44,224.58 400.06,225.50 400.51,226.35 C400.96,227.21 401.45,227.89 401.79,228.74 C402.12,229.60 402.33,230.17 402.50,231.48 C402.66,232.79 402.71,234.62 402.78,236.61 C402.85,238.61 402.92,241.57 402.92,243.45 C402.92,245.33 402.97,246.76 402.78,247.90 C402.59,249.04 402.73,249.66 401.79,250.29 C400.84,250.92 397.88,251.43 397.10,251.66 Z" fill="#000" filter="url(#fur)"/>
<ellipse cx="393.55" cy="252.40" rx="1.42" ry="0.8" fill="#777"/>
<ellipse cx="400.65" cy="252.40" rx="1.42" ry="0.8" fill="#777"/>
<path d="M411.30,251.66 C410.52,251.43 407.56,250.92 406.61,250.29 C405.67,249.66 405.81,249.04 405.62,247.90 C405.43,246.76 405.48,245.33 405.48,243.45 C405.48,241.57 405.55,238.61 405.62,236.61 C405.69,234.62 405.74,232.79 405.90,231.48 C406.07,230.17 406.28,229.60 406.61,228.74 C406.95,227.89 407.44,227.21 407.89,226.35 C408.34,225.50 408.96,224.58 409.31,223.61 C409.67,222.65 409.55,221.50 410.02,220.54 C410.50,219.57 411.73,217.80 412.15,217.80 C412.58,217.80 412.39,219.57 412.58,220.54 C412.77,221.50 412.93,222.65 413.29,223.61 C413.64,224.58 414.26,225.50 414.71,226.35 C415.16,227.21 415.65,227.89 415.99,228.74 C416.32,229.60 416.53,230.17 416.70,231.48 C416.86,232.79 416.91,234.62 416.98,236.61 C417.05,238.61 417.12,241.57 417.12,243.45 C417.12,245.33 417.17,246.76 416.98,247.90 C416.79,249.04 416.93,249.66 415.99,250.29 C415.04,250.92 412.08,251.43 411.30,251.66 Z" fill="url(#mg)"/>
<path d="M411.30,251.66 C410.52,251.43 407.56,250.92 406.61,250.29 C405.67,249.66 405.81,249.04 405.62,247.90 C405.43,246.76 405.48,245.33 405.48,243.45 C405.48,241.57 405.55,238.61 405.62,236.61 C405.69,234.62 405.74,232.79 405.90,231.48 C406.07,230.17 406.28,229.60 406.61,228.74 C406.95,227.89 407.44,227.21 407.89,226.35 C408.34,225.50 408.96,224.58 409.31,223.61 C409.67,222.65 409.55,221.50 410.02,220.54 C410.50,219.57 411.73,217.80 412.15,217.80 C412.58,217.80 412.39,219.57 412.58,220.54 C412.77,221.50 412.93,222.65 413.29,223.61 C413.64,224.58 414.26,225.50 414.71,226.35 C415.16,227.21 415.65,227.89 415.99,228.74 C416.32,229.60 416.53,230.17 416.70,231.48 C416.86,232.79 416.91,234.62 416.98,236.61 C417.05,238.61 417.12,241.57 417.12,243.45 C417.12,245.33 417.17,246.76 416.98,247.90 C416.79,249.04 416.93,249.66 415.99,250.29 C415.04,250.92 412.08,251.43 411.30,251.66 Z" fill="#000" filter="url(#fur)"/>
<ellipse cx="407.75" cy="252.40" rx="1.42" ry="0.8" fill="#777"/>
<ellipse cx="414.85" cy="252.40" rx="1.42" ry="0.8" fill="#777"/>
<path d="M425.50,251.66 C424.72,251.43 421.76,250.92 420.81,250.29 C419.87,249.66 420.01,249.04 419.82,247.90 C419.63,246.76 419.68,245.33 419.68,243.45 C419.68,241.57 419.75,238.61 419.82,236.61 C419.89,234.62 419.94,232.79 420.10,231.48 C420.27,230.17 420.48,229.60 420.81,228.74 C421.15,227.89 421.64,227.21 422.09,226.35 C422.54,225.50 423.16,224.58 423.51,223.61 C423.87,222.65 423.75,221.50 424.22,220.54 C424.70,219.57 425.93,217.80 426.35,217.80 C426.78,217.80 426.59,219.57 426.78,220.54 C426.97,221.50 427.13,222.65 427.49,223.61 C427.84,224.58 428.46,225.50 428.91,226.35 C429.36,227.21 429.85,227.89 430.19,228.74 C430.52,229.60 430.73,230.17 430.90,231.48 C431.06,232.79 431.11,234.62 431.18,236.61 C431.25,238.61 431.32,241.57 431.32,243.45 C431.32,245.33 431.37,246.76 431.18,247.90 C430.99,249.04 431.13,249.66 430.19,250.29 C429.24,250.92 426.28,251.43 425.50,251.66 Z" fill="url(#mg)"/>
<path d="M425.50,251.66 C424.72,251.43 421.76,250.92 420.81,250.29 C419.87,249.66 420.01,249.04 419.82,247.90 C419.63,246.76 419.68,245.33 419.68,243.45 C419.68,241.57 419.75,238.61 419.82,236.61 C419.89,234.62 419.94,232.79 420.10,231.48 C420.27,230.17 420.48,229.60 420.81,228.74 C421.15,227.89 421.64,227.21 422.09,226.35 C422.54,225.50 423.16,224.58 423.51,223.61 C423.87,222.65 423.75,221.50 424.22,220.54 C424.70,219.57 425.93,217.80 426.35,217.80 C426.78,217.80 426.59,219.57 426.78,220.54 C426.97,221.50 427.13,222.65 427.49,223.61 C427.84,224.58 428.46,225.50 428.91,226.35 C429.36,227.21 429.85,227.89 430.19,228.74 C430.52,229.60 430.73,230.17 430.90,231.48 C431.06,232.79 431.11,234.62 431.18,236.61 C431.25,238.61 431.32,241.57 431.32,243.45 C431.32,245.33 431.37,246.76 431.18,247.90 C430.99,249.04 431.13,249.66 430.19,250.29 C429.24,250.92 426.28,251.43 425.50,251.66 Z" fill="#000" filter="url(#fur)"/>
<ellipse cx="421.95" cy="252.40" rx="1.42" ry="0.8" fill="#777"/>
<ellipse cx="429.05" cy="252.40" rx="1.42" ry="0.8" fill="#777"/>
<path d="M439.70,251.66 C438.92,251.43 435.96,250.92 435.01,250.29 C434.07,249.66 434.21,249.04 434.02,247.90 C433.83,246.76 433.88,245.33 433.88,243.45 C433.88,241.57 433.95,238.61 434.02,236.61 C434.09,234.62 434.14,232.79 434.30,231.48 C434.47,230.17 434.68,229.60 435.01,228.74 C435.35,227.89 435.84,227.21 436.29,226.35 C436.74,225.50 437.36,224.58 437.71,223.61 C438.07,222.65 437.95,221.50 438.42,220.54 C438.90,219.57 440.13,217.80 440.55,217.80 C440.98,217.80 440.79,219.57 440.98,220.54 C441.17,221.50 441.33,222.65 441.69,223.61 C442.04,224.58 442.66,225.50 443.11,226.35 C443.56,227.21 444.05,227.89 444.39,228.74 C444.72,229.60 444.93,230.17 445.10,231.48 C445.26,232.79 445.31,234.62 445.38,236.61 C445.45,238.61 445.52,241.57 445.52,243.45 C445.52,245.33 445.57,246.76 445.38,247.90 C445.19,249.04 445.33,249.66 444.39,250.29 C443.44,250.92 440.48,251.43 439.70,251.66 Z" fill="url(#mg)"/>
<path d="M439.70,251.66 C438.92,251.43 435.96,250.92 435.01,250.29 C434.07,249.66 434.21,249.04 434.02,247.90 C433.83,246.76 433.88,245.33 433.88,243.45 C433.88,241.57 433.95,238.61 434.02,236.61 C434.09,234.62 434.14,232.79 434.30,231.48 C434.47,230.17 434.68,229.60 435.01,228.74 C435.35,227.89 435.84,227.21 436.29,226.35 C436.74,225.50 437.36,224.58 437.71,223.61 C438.07,222.65 437.95,221.50 438.42,220.54 C438.90,219.57 440.13,217.80 440.55,217.80 C440.98,217.80 440.79,219.57 440.98,220.54 C441.17,221.50 441.33,222.65 441.69,223.61 C442.04,224.58 442.66,225.50 443.11,226.35 C443.56,227.21 444.05,227.89 444.39,228.74 C444.72,229.60 444.93,230.17 445.10,231.48 C445.26,232.79 445.31,234.62 445.38,236.61 C445.45,238.61 445.52,241.57 445.52,243.45 C445.52,245.33 445.57,246.76 445.38,247.90 C445.19,249.04 445.33,249.66 444.39,250.29 C443.44,250.92 440.48,251.43 439.70,251.66 Z" fill="#000" filter="url(#fur)"/>
<ellipse cx="436.15" cy="252.40" rx="1.42" ry="0.8" fill="#777"/>
<ellipse cx="443.25" cy="252.40" rx="1.42" ry="0.8" fill="#777"/>
<path d="M453.90,251.66 C453.12,251.43 450.16,250.92 449.21,250.29 C448.27,249.66 448.41,249.04 448.22,247.90 C448.03,246.76 448.08,245.33 448.08,243.45 C448.08,241.57 448.15,238.61 448.22,236.61 C448.29,234.62 448.34,232.79 448.50,231.48 C448.67,230.17 448.88,229.60 449.21,228.74 C449.55,227.89 450.04,227.21 450.49,226.35 C450.94,225.50 451.56,224.58 451.91,223.61 C452.27,222.65 452.15,221.50 452.62,220.54 C453.10,219.57 454.33,217.80 454.75,217.80 C455.18,217.80 454.99,219.57 455.18,220.54 C455.37,221.50 455.53,222.65 455.89,223.61 C456.24,224.58 456.86,225.50 457.31,226.35 C457.76,227.21 458.25,227.89 458.59,228.74 C458.92,229.60 459.13,230.17 459.30,231.48 C459.46,232.79 459.51,234.62 459.58,236.61 C459.65,238.61 459.72,241.57 459.72,243.45 C459.72,245.33 459.77,246.76 459.58,247.90 C459.39,249.04 459.53,249.66 458.59,250.29 C457.64,250.92 454.68,251.43 453.90,251.66 Z" fill="url(#mg)"/>
<path d="M453.90,251.66 C453.12,251.43 450.16,250.92 449.21,250.29 C448.27,249.66 448.41,249.04 448.22,247.90 C448.03,246.76 448.08,245.33 448.08,243.45 C448.08,241.57 448.15,238.61 448.22,236.61 C448.29,234.62 448.34,232.79 448.50,231.48 C448.67,230.17 448.88,229.60 449.21,228.74 C449.55,227.89 450.04,227.21 450.49,226.35 C450.94,225.50 451.56,224.58 451.91,223.61 C452.27,222.65 452.15,221.50 452.62,220.54 C453.10,219.57 454.33,217.80 454.75,217.80 C455.18,217.80 454.99,219.57 455.18,220.54 C455.37,221.50 455.53,222.65 455.89,223.61 C456.24,224.58 456.86,225.50 457.31,226.35 C457.76,227.21 458.25,227.89 458.59,228.74 C458.92,229.60 459.13,230.17 459.30,231.48 C459.46,232.79 459.51,234.62 459.58,236.61 C459.65,238.61 459.72,241.57 459.72,243.45 C459.72,245.33 459.77,246.76 459.58,247.90 C459.39,249.04 459.53,249.66 458.59,250.29 C457.64,250.92 454.68,251.43 453.90,251.66 Z" fill="#000" filter="url(#fur)"/>
<ellipse cx="450.35" cy="252.40" rx="1.42" ry="0.8" fill="#777"/>
<ellipse cx="457.45" cy="252.40" rx="1.42" ry="0.8" fill="#777"/>
<path d="M468.10,251.66 C467.32,251.43 464.36,250.92 463.41,250.29 C462.47,249.66 462.61,249.04 462.42,247.90 C462.23,246.76 462.28,245.33 462.28,243.45 C462.28,241.57 462.35,238.61 462.42,236.61 C462.49,234.62 462.54,232.79 462.70,231.48 C462.87,230.17 463.08,229.60 463.41,228.74 C463.75,227.89 464.24,227.21 464.69,226.35 C465.14,225.50 465.76,224.58 466.11,223.61 C466.47,222.65 466.35,221.50 466.82,220.54 C467.30,219.57 468.53,217.80 468.95,217.80 C469.38,217.80 469.19,219.57 469.38,220.54 C469.57,221.50 469.73,222.65 470.09,223.61 C470.44,224.58 471.06,225.50 471.51,226.35 C471.96,227.21 472.45,227.89 472.79,228.74 C473.12,229.60 473.33,230.17 473.50,231.48 C473.66,232.79 473.71,234.62 473.78,236.61 C473.85,238.61 473.92,241.57 473.92,243.45 C473.92,245.33 473.97,246.76 473.78,247.90 C473.59,249.04 473.73,249.66 472.79,250.29 C471.84,250.92 468.88,251.43 468.10,251.66 Z" fill="url(#mg)"/>
<path d="M468.10,251.66 C467.32,251.43 464.36,250.92 463.41,250.29 C462.47,249.66 462.61,249.04 462.42,247.90 C462.23,246.76 462.28,245.33 462.28,243.45 C462.28,241.57 462.35,238.61 462.42,236.61 C462.49,234.62 462.54,232.79 462.70,231.48 C462.87,230.17 463.08,229.60 463.41,228.74 C463.75,227.89 464.24,227.21 464.69,226.35 C465.14,225.50 465.76,224.58 466.11,223.61 C466.47,222.65 466.35,221.50 466.82,220.54 C467.30,219.57 468.53,217.80 468.95,217.80 C469.38,217.80 469.19,219.57 469.38,220.54 C469.57,221.50 469.73,222.65 470.09,223.61 C470.44,224.58 471.06,225.50 471.51,226.35 C471.96,227.21 472.45,227.89 472.79,228.74 C473.12,229.60 473.33,230.17 473.50,231.48 C473.66,232.79 473.71,234.62 473.78,236.61 C473.85,238.61 473.92,241.57 473.92,243.45 C473.92,245.33 473.97,246.76 473.78,247.90 C473.59,249.04 473.73,249.66 472.79,250.29 C471.84,250.92 468.88,251.43 468.10,251.66 Z" fill="#000" filter="url(#fur)"/>
<ellipse cx="464.55" cy="252.40" rx="1.42" ry="0.8" fill="#777"/>
<ellipse cx="471.65" cy="252.40" rx="1.42" ry="0.8" fill="#777"/>
</g>
<line x1="347.4" y1="217.15" x2="475.2" y2="217.15" stroke="#ddd" stroke-width="0.9"/>
<g filter="url(#bl)">
<path d="M348.0,236.5 C350.5,233.5 356,234 358.5,237.5 C360,241 359.5,247 356.5,249.5 C352.5,251 348.8,250 348.0,247 Z" fill="#2a3cf0"/>
<ellipse cx="354.5" cy="245.0" rx="3.6" ry="3.0" fill="#2a7af0" opacity="0.9"/>
<ellipse cx="351.30" cy="240.50" rx="4.00" ry="4.00" fill="#22b0e8" opacity="1.0"/>
<ellipse cx="351.30" cy="240.50" rx="3.12" ry="3.12" fill="#30d060" opacity="1.0"/>
<ellipse cx="351.30" cy="240.50" rx="2.40" ry="2.40" fill="#d8e030" opacity="1.0"/>
<ellipse cx="351.30" cy="240.50" rx="1.92" ry="1.92" fill="#f08a1e" opacity="1.0"/>
<ellipse cx="351.30" cy="240.50" rx="1.60" ry="1.60" fill="#e02020" opacity="1.0"/>
<ellipse cx="369.8" cy="242.4" rx="5.2" ry="5.6" fill="#6a50ee"/>
<ellipse cx="370.3" cy="243.0" rx="4.2" ry="4.4" fill="#2c3cf0"/>
<ellipse cx="366.5" cy="238.0" rx="2.2" ry="1.8" fill="#6a50ee"/>
<ellipse cx="370.50" cy="243.20" rx="3.00" ry="3.00" fill="#22b8e8" opacity="1.0"/>
<ellipse cx="370.50" cy="243.20" rx="2.25" ry="2.25" fill="#34d058" opacity="1.0"/>
<ellipse cx="370.50" cy="243.20" rx="1.74" ry="1.74" fill="#f08a1e" opacity="1.0"/>
<ellipse cx="370.50" cy="243.20" rx="1.38" ry="1.38" fill="#e81818" opacity="1.0"/>
<ellipse cx="430.0" cy="233.5" rx="2.4" ry="2.4" fill="#3a40ee"/>
<ellipse cx="420.6" cy="239.8" rx="2.2" ry="2.4" fill="#8a70ee" opacity="0.8"/>
<path d="M439.70,251.66 C438.92,251.43 435.96,250.92 435.01,250.29 C434.07,249.66 434.21,249.04 434.02,247.90 C433.83,246.76 433.88,245.33 433.88,243.45 C433.88,241.57 433.95,238.61 434.02,236.61 C434.09,234.62 434.14,232.79 434.30,231.48 C434.47,230.17 434.68,229.60 435.01,228.74 C435.35,227.89 435.84,227.21 436.29,226.35 C436.74,225.50 437.36,224.58 437.71,223.61 C438.07,222.65 437.95,221.50 438.42,220.54 C438.90,219.57 440.13,217.80 440.55,217.80 C440.98,217.80 440.79,219.57 440.98,220.54 C441.17,221.50 441.33,222.65 441.69,223.61 C442.04,224.58 442.66,225.50 443.11,226.35 C443.56,227.21 444.05,227.89 444.39,228.74 C444.72,229.60 444.93,230.17 445.10,231.48 C445.26,232.79 445.31,234.62 445.38,236.61 C445.45,238.61 445.52,241.57 445.52,243.45 C445.52,245.33 445.57,246.76 445.38,247.90 C445.19,249.04 445.33,249.66 444.39,250.29 C443.44,250.92 440.48,251.43 439.70,251.66 Z" fill="#6878f0" opacity="0.6"/>
<path d="M468.10,251.66 C467.32,251.43 464.36,250.92 463.41,250.29 C462.47,249.66 462.61,249.04 462.42,247.90 C462.23,246.76 462.28,245.33 462.28,243.45 C462.28,241.57 462.35,238.61 462.42,236.61 C462.49,234.62 462.54,232.79 462.70,231.48 C462.87,230.17 463.08,229.60 463.41,228.74 C463.75,227.89 464.24,227.21 464.69,226.35 C465.14,225.50 465.76,224.58 466.11,223.61 C466.47,222.65 466.35,221.50 466.82,220.54 C467.30,219.57 468.53,217.80 468.95,217.80 C469.38,217.80 469.19,219.57 469.38,220.54 C469.57,221.50 469.73,222.65 470.09,223.61 C470.44,224.58 471.06,225.50 471.51,226.35 C471.96,227.21 472.45,227.89 472.79,228.74 C473.12,229.60 473.33,230.17 473.50,231.48 C473.66,232.79 473.71,234.62 473.78,236.61 C473.85,238.61 473.92,241.57 473.92,243.45 C473.92,245.33 473.97,246.76 473.78,247.90 C473.59,249.04 473.73,249.66 472.79,250.29 C471.84,250.92 468.88,251.43 468.10,251.66 Z" fill="#a898f0" opacity="0.35"/>
<path d="M425.50,251.66 C424.72,251.43 421.76,250.92 420.81,250.29 C419.87,249.66 420.01,249.04 419.82,247.90 C419.63,246.76 419.68,245.33 419.68,243.45 C419.68,241.57 419.75,238.61 419.82,236.61 C419.89,234.62 419.94,232.79 420.10,231.48 C420.27,230.17 420.48,229.60 420.81,228.74 C421.15,227.89 421.64,227.21 422.09,226.35 C422.54,225.50 423.16,224.58 423.51,223.61 C423.87,222.65 423.75,221.50 424.22,220.54 C424.70,219.57 425.93,217.80 426.35,217.80 C426.78,217.80 426.59,219.57 426.78,220.54 C426.97,221.50 427.13,222.65 427.49,223.61 C427.84,224.58 428.46,225.50 428.91,226.35 C429.36,227.21 429.85,227.89 430.19,228.74 C430.52,229.60 430.73,230.17 430.90,231.48 C431.06,232.79 431.11,234.62 431.18,236.61 C431.25,238.61 431.32,241.57 431.32,243.45 C431.32,245.33 431.37,246.76 431.18,247.90 C430.99,249.04 431.13,249.66 430.19,250.29 C429.24,250.92 426.28,251.43 425.50,251.66 Z" fill="#b0a0f0" opacity="0.12"/>
<ellipse cx="438.80" cy="225.30" rx="6.20" ry="6.20" fill="#3a3cf0" opacity="1.0"/>
<ellipse cx="438.80" cy="225.30" rx="5.27" ry="5.27" fill="#2a6af0" opacity="1.0"/>
<ellipse cx="438.80" cy="225.30" rx="4.46" ry="4.46" fill="#22c0e8" opacity="1.0"/>
<ellipse cx="438.80" cy="225.30" rx="3.84" ry="3.84" fill="#40d060" opacity="1.0"/>
<ellipse cx="438.80" cy="225.30" rx="3.41" ry="3.41" fill="#f0c020" opacity="1.0"/>
<ellipse cx="438.80" cy="225.30" rx="3.10" ry="3.10" fill="#e81818" opacity="1.0"/>
<ellipse cx="438.80" cy="237.80" rx="4.80" ry="4.80" fill="#3a3cf0" opacity="1.0"/>
<ellipse cx="438.80" cy="237.80" rx="3.94" ry="3.94" fill="#22a8e8" opacity="1.0"/>
<ellipse cx="438.80" cy="237.80" rx="3.26" ry="3.26" fill="#40d060" opacity="1.0"/>
<ellipse cx="438.80" cy="237.80" rx="2.78" ry="2.78" fill="#f0a020" opacity="1.0"/>
<ellipse cx="438.80" cy="237.80" rx="2.40" ry="2.40" fill="#e81818" opacity="1.0"/>
<ellipse cx="466.4" cy="231.0" rx="2.5" ry="2.5" fill="#2a40ee"/>
<ellipse cx="466.4" cy="231.0" rx="1.2" ry="1.2" fill="#2a7af0"/>
<ellipse cx="471.0" cy="225.0" rx="2.0" ry="2.0" fill="#7a60ee" opacity="0.9"/>
<ellipse cx="469.6" cy="239.8" rx="2.0" ry="2.0" fill="#4a40e8"/>
<ellipse cx="439.0" cy="212.5" rx="3.0" ry="1.8" fill="#8a70ee" opacity="0.5"/>
</g>
<text x="314.70" y="195.80" font-size="7.0" text-anchor="start" fill="#231f20" stroke="#231f20" stroke-width="0.24" textLength="28.10" lengthAdjust="spacingAndGlyphs"><tspan fill="#dc1f52" stroke="#dc1f52">N1</tspan><tspan font-weight="bold"> CD4+</tspan></text>
<text x="312.80" y="203.30" font-size="7.0" text-anchor="start" fill="#231f20" stroke="#231f20" stroke-width="0.24" textLength="30.00" lengthAdjust="spacingAndGlyphs"><tspan font-weight="bold">Ctrl CD8+</tspan></text>
<text x="312.80" y="233.00" font-size="7.0" text-anchor="start" fill="#231f20" stroke="#231f20" stroke-width="0.24" textLength="30.00" lengthAdjust="spacingAndGlyphs"><tspan fill="#3f7fa8" stroke="#3f7fa8"><tspan font-weight="bold">Ctrl</tspan></tspan><tspan font-weight="bold"> CD4+</tspan></text>
<text x="312.80" y="240.30" font-size="7.0" text-anchor="start" fill="#231f20" stroke="#231f20" stroke-width="0.24" textLength="30.00" lengthAdjust="spacingAndGlyphs"><tspan font-weight="bold">Ctrl CD8+</tspan></text>
<rect x="477.70" y="188.00" width="10.50" height="65.20" fill="url(#cbar)" stroke="#222" stroke-width="0.8"/>
<line x1="488.20" y1="188.60" x2="490.40" y2="188.60" stroke="#222" stroke-width="0.8"/>
<text x="492.40" y="191.00" font-size="6.6" text-anchor="start" fill="#2a2a2a" stroke="#2a2a2a" stroke-width="0.15" textLength="17.60" lengthAdjust="spacingAndGlyphs">1×10<tspan baseline-shift="2.8" font-size="4.8">6</tspan></text>
<line x1="488.20" y1="201.70" x2="490.40" y2="201.70" stroke="#222" stroke-width="0.8"/>
<text x="492.40" y="204.10" font-size="6.6" text-anchor="start" fill="#2a2a2a" stroke="#2a2a2a" stroke-width="0.15" textLength="17.60" lengthAdjust="spacingAndGlyphs">8×10<tspan baseline-shift="2.8" font-size="4.8">5</tspan></text>
<line x1="488.20" y1="215.10" x2="490.40" y2="215.10" stroke="#222" stroke-width="0.8"/>
<text x="492.40" y="217.50" font-size="6.6" text-anchor="start" fill="#2a2a2a" stroke="#2a2a2a" stroke-width="0.15" textLength="17.60" lengthAdjust="spacingAndGlyphs">6×10<tspan baseline-shift="2.8" font-size="4.8">5</tspan></text>
<line x1="488.20" y1="228.50" x2="490.40" y2="228.50" stroke="#222" stroke-width="0.8"/>
<text x="492.40" y="230.90" font-size="6.6" text-anchor="start" fill="#2a2a2a" stroke="#2a2a2a" stroke-width="0.15" textLength="17.60" lengthAdjust="spacingAndGlyphs">4×10<tspan baseline-shift="2.8" font-size="4.8">5</tspan></text>
<line x1="488.20" y1="242.90" x2="490.40" y2="242.90" stroke="#222" stroke-width="0.8"/>
<text x="492.40" y="245.30" font-size="6.6" text-anchor="start" fill="#2a2a2a" stroke="#2a2a2a" stroke-width="0.15" textLength="17.60" lengthAdjust="spacingAndGlyphs">2×10<tspan baseline-shift="2.8" font-size="4.8">5</tspan></text>
<line x1="488.20" y1="252.50" x2="490.40" y2="252.50" stroke="#222" stroke-width="0.8"/>
<text x="492.40" y="254.90" font-size="6.6" text-anchor="start" fill="#2a2a2a" stroke="#2a2a2a" stroke-width="0.15" textLength="17.60" lengthAdjust="spacingAndGlyphs">5×10<tspan baseline-shift="2.8" font-size="4.8">4</tspan></text>
<text x="477.40" y="161.90" font-size="8.2" text-anchor="start" fill="#231f20" stroke="#231f20" stroke-width="0.16" textLength="27.80" lengthAdjust="spacingAndGlyphs">Average</text>
<text x="477.40" y="170.70" font-size="8.2" text-anchor="start" fill="#231f20" stroke="#231f20" stroke-width="0.16" textLength="28.80" lengthAdjust="spacingAndGlyphs">radiance</text>
<text x="477.10" y="179.50" font-size="8.2" text-anchor="start" fill="#231f20" stroke="#231f20" stroke-width="0.16" textLength="39.70" lengthAdjust="spacingAndGlyphs">[p/s/cm<tspan baseline-shift="3.1" font-size="5.4">2</tspan>/sr]</text>
<line x1="50.40" y1="466.20" x2="50.40" y2="538.00" stroke="#1a1a1a" stroke-width="1.1"/>
<line x1="47.60" y1="470.40" x2="50.40" y2="470.40" stroke="#1a1a1a" stroke-width="0.9"/>
<text x="44.00" y="473.30" font-size="8.3" text-anchor="end" fill="#1e1e1e" stroke="#1e1e1e" stroke-width="0.24" textLength="17.40" lengthAdjust="spacingAndGlyphs">1.5%</text>
<line x1="47.60" y1="491.90" x2="50.40" y2="491.90" stroke="#1a1a1a" stroke-width="0.9"/>
<text x="44.00" y="494.80" font-size="8.3" text-anchor="end" fill="#1e1e1e" stroke="#1e1e1e" stroke-width="0.24" textLength="17.40" lengthAdjust="spacingAndGlyphs">1.0%</text>
<line x1="47.60" y1="514.70" x2="50.40" y2="514.70" stroke="#1a1a1a" stroke-width="0.9"/>
<text x="44.00" y="517.60" font-size="8.3" text-anchor="end" fill="#1e1e1e" stroke="#1e1e1e" stroke-width="0.24" textLength="17.40" lengthAdjust="spacingAndGlyphs">0.5%</text>
<line x1="47.60" y1="537.30" x2="50.40" y2="537.30" stroke="#1a1a1a" stroke-width="0.9"/>
<text x="44.00" y="540.20" font-size="8.3" text-anchor="end" fill="#1e1e1e" stroke="#1e1e1e" stroke-width="0.24" textLength="17.40" lengthAdjust="spacingAndGlyphs">0.0%</text>
<line x1="50.40" y1="537.50" x2="116.80" y2="537.50" stroke="#1a1a1a" stroke-width="1.1"/>
<line x1="66.00" y1="537.50" x2="66.00" y2="539.90" stroke="#1a1a1a" stroke-width="0.9"/>
<line x1="101.20" y1="537.50" x2="101.20" y2="539.90" stroke="#1a1a1a" stroke-width="0.9"/>
<rect x="55.1" y="518.0" width="8.0" height="19.4" fill="#f5a3ae"/>
<rect x="68.2" y="534.2" width="8.0" height="3.2" fill="#a7cde2"/>
<rect x="91.0" y="501.8" width="7.9" height="35.6" fill="#f5a3ae"/>
<rect x="103.5" y="526.2" width="8.3" height="11.0" fill="#a7cde2"/>
<circle cx="59.4" cy="507.1" r="1.95" fill="#e0245a"/>
<circle cx="59.4" cy="512.4" r="1.95" fill="#e0245a"/>
<circle cx="59.2" cy="517.2" r="1.95" fill="#e0245a"/>
<circle cx="61.9" cy="521.0" r="1.95" fill="#e0245a"/>
<circle cx="56.9" cy="524.6" r="1.95" fill="#e0245a"/>
<circle cx="71.2" cy="530.6" r="1.95" fill="#1f6e96"/>
<circle cx="73.8" cy="531.2" r="1.95" fill="#1f6e96"/>
<circle cx="70.6" cy="535.6" r="1.95" fill="#1f6e96"/>
<circle cx="73.8" cy="535.6" r="1.95" fill="#1f6e96"/>
<circle cx="72.2" cy="536.4" r="1.95" fill="#1f6e96"/>
<circle cx="94.9" cy="477.3" r="1.95" fill="#e0245a"/>
<circle cx="94.5" cy="490.3" r="1.95" fill="#e0245a"/>
<circle cx="94.5" cy="500.9" r="1.95" fill="#e0245a"/>
<circle cx="92.0" cy="512.2" r="1.95" fill="#e0245a"/>
<circle cx="97.2" cy="510.3" r="1.95" fill="#e0245a"/>
<circle cx="107.7" cy="511.2" r="1.95" fill="#1f6e96"/>
<circle cx="107.7" cy="521.3" r="1.95" fill="#1f6e96"/>
<circle cx="107.7" cy="525.6" r="1.95" fill="#1f6e96"/>
<circle cx="110.6" cy="531.3" r="1.95" fill="#1f6e96"/>
<circle cx="105.6" cy="534.3" r="1.95" fill="#1f6e96"/>
<path d="M58.7,472.7 L58.7,469.8 L73.4,469.8 L73.4,472.7" fill="none" stroke="#222" stroke-width="0.95"/>
<path d="M94.2,472.7 L94.2,469.8 L109.0,469.8 L109.0,472.7" fill="none" stroke="#222" stroke-width="0.95"/>
<circle cx="62.75" cy="466.60" r="0.95" fill="#1a1a1a"/>
<circle cx="66.10" cy="466.60" r="0.95" fill="#1a1a1a"/>
<circle cx="69.45" cy="466.60" r="0.95" fill="#1a1a1a"/>
<circle cx="100.03" cy="466.60" r="0.95" fill="#1a1a1a"/>
<circle cx="103.38" cy="466.60" r="0.95" fill="#1a1a1a"/>
<text x="55.20" y="549.70" font-size="8.0" text-anchor="start" fill="#1e1e1e" stroke="#1e1e1e" stroke-width="0.24" textLength="20.80" lengthAdjust="spacingAndGlyphs">CD4+</text>
<text x="90.70" y="549.70" font-size="8.0" text-anchor="start" fill="#1e1e1e" stroke="#1e1e1e" stroke-width="0.24" textLength="20.80" lengthAdjust="spacingAndGlyphs">CD8+</text>
<text x="40.10" y="563.00" font-size="9.6" text-anchor="start" fill="#1e1e1e" stroke="#1e1e1e" stroke-width="0.2" textLength="86.40" lengthAdjust="spacingAndGlyphs">Day 7 post CAR-T injection</text>
<text transform="translate(8.20,503.50) rotate(-90)" x="0" y="0" font-size="8.8" text-anchor="middle" fill="#1e1e1e" stroke="#1e1e1e" stroke-width="0.24" textLength="71.80" lengthAdjust="spacingAndGlyphs">hCD45+ EGFRt+ of</text>
<text transform="translate(20.00,503.20) rotate(-90)" x="0" y="0" font-size="8.8" text-anchor="middle" fill="#1e1e1e" stroke="#1e1e1e" stroke-width="0.24" textLength="69.70" lengthAdjust="spacingAndGlyphs">lymphocyte singlets</text>
<line x1="174.90" y1="465.70" x2="174.90" y2="537.80" stroke="#1a1a1a" stroke-width="1.1"/>
<line x1="172.10" y1="469.70" x2="174.90" y2="469.70" stroke="#1a1a1a" stroke-width="0.9"/>
<line x1="172.10" y1="480.93" x2="174.90" y2="480.93" stroke="#1a1a1a" stroke-width="0.9"/>
<line x1="172.10" y1="492.16" x2="174.90" y2="492.16" stroke="#1a1a1a" stroke-width="0.9"/>
<line x1="172.10" y1="503.39" x2="174.90" y2="503.39" stroke="#1a1a1a" stroke-width="0.9"/>
<line x1="172.10" y1="514.62" x2="174.90" y2="514.62" stroke="#1a1a1a" stroke-width="0.9"/>
<line x1="172.10" y1="525.85" x2="174.90" y2="525.85" stroke="#1a1a1a" stroke-width="0.9"/>
<line x1="172.10" y1="537.08" x2="174.90" y2="537.08" stroke="#1a1a1a" stroke-width="0.9"/>
<line x1="173.60" y1="477.55" x2="174.90" y2="477.55" stroke="#1a1a1a" stroke-width="0.6"/>
<line x1="173.60" y1="475.57" x2="174.90" y2="475.57" stroke="#1a1a1a" stroke-width="0.6"/>
<line x1="173.60" y1="474.17" x2="174.90" y2="474.17" stroke="#1a1a1a" stroke-width="0.6"/>
<line x1="173.60" y1="473.08" x2="174.90" y2="473.08" stroke="#1a1a1a" stroke-width="0.6"/>
<line x1="173.60" y1="472.19" x2="174.90" y2="472.19" stroke="#1a1a1a" stroke-width="0.6"/>
<line x1="173.60" y1="471.44" x2="174.90" y2="471.44" stroke="#1a1a1a" stroke-width="0.6"/>
<line x1="173.60" y1="470.79" x2="174.90" y2="470.79" stroke="#1a1a1a" stroke-width="0.6"/>
<line x1="173.60" y1="470.21" x2="174.90" y2="470.21" stroke="#1a1a1a" stroke-width="0.6"/>
<line x1="173.60" y1="488.78" x2="174.90" y2="488.78" stroke="#1a1a1a" stroke-width="0.6"/>
<line x1="173.60" y1="486.80" x2="174.90" y2="486.80" stroke="#1a1a1a" stroke-width="0.6"/>
<line x1="173.60" y1="485.40" x2="174.90" y2="485.40" stroke="#1a1a1a" stroke-width="0.6"/>
<line x1="173.60" y1="484.31" x2="174.90" y2="484.31" stroke="#1a1a1a" stroke-width="0.6"/>
<line x1="173.60" y1="483.42" x2="174.90" y2="483.42" stroke="#1a1a1a" stroke-width="0.6"/>
<line x1="173.60" y1="482.67" x2="174.90" y2="482.67" stroke="#1a1a1a" stroke-width="0.6"/>
<line x1="173.60" y1="482.02" x2="174.90" y2="482.02" stroke="#1a1a1a" stroke-width="0.6"/>
<line x1="173.60" y1="481.44" x2="174.90" y2="481.44" stroke="#1a1a1a" stroke-width="0.6"/>
<line x1="173.60" y1="500.01" x2="174.90" y2="500.01" stroke="#1a1a1a" stroke-width="0.6"/>
<line x1="173.60" y1="498.03" x2="174.90" y2="498.03" stroke="#1a1a1a" stroke-width="0.6"/>
<line x1="173.60" y1="496.63" x2="174.90" y2="496.63" stroke="#1a1a1a" stroke-width="0.6"/>
<line x1="173.60" y1="495.54" x2="174.90" y2="495.54" stroke="#1a1a1a" stroke-width="0.6"/>
<line x1="173.60" y1="494.65" x2="174.90" y2="494.65" stroke="#1a1a1a" stroke-width="0.6"/>
<line x1="173.60" y1="493.90" x2="174.90" y2="493.90" stroke="#1a1a1a" stroke-width="0.6"/>
<line x1="173.60" y1="493.25" x2="174.90" y2="493.25" stroke="#1a1a1a" stroke-width="0.6"/>
<line x1="173.60" y1="492.67" x2="174.90" y2="492.67" stroke="#1a1a1a" stroke-width="0.6"/>
<line x1="173.60" y1="511.24" x2="174.90" y2="511.24" stroke="#1a1a1a" stroke-width="0.6"/>
<line x1="173.60" y1="509.26" x2="174.90" y2="509.26" stroke="#1a1a1a" stroke-width="0.6"/>
<line x1="173.60" y1="507.86" x2="174.90" y2="507.86" stroke="#1a1a1a" stroke-width="0.6"/>
<line x1="173.60" y1="506.77" x2="174.90" y2="506.77" stroke="#1a1a1a" stroke-width="0.6"/>
<line x1="173.60" y1="505.88" x2="174.90" y2="505.88" stroke="#1a1a1a" stroke-width="0.6"/>
<line x1="173.60" y1="505.13" x2="174.90" y2="505.13" stroke="#1a1a1a" stroke-width="0.6"/>
<line x1="173.60" y1="504.48" x2="174.90" y2="504.48" stroke="#1a1a1a" stroke-width="0.6"/>
<line x1="173.60" y1="503.90" x2="174.90" y2="503.90" stroke="#1a1a1a" stroke-width="0.6"/>
<line x1="173.60" y1="522.47" x2="174.90" y2="522.47" stroke="#1a1a1a" stroke-width="0.6"/>
<line x1="173.60" y1="520.49" x2="174.90" y2="520.49" stroke="#1a1a1a" stroke-width="0.6"/>
<line x1="173.60" y1="519.09" x2="174.90" y2="519.09" stroke="#1a1a1a" stroke-width="0.6"/>
<line x1="173.60" y1="518.00" x2="174.90" y2="518.00" stroke="#1a1a1a" stroke-width="0.6"/>
<line x1="173.60" y1="517.11" x2="174.90" y2="517.11" stroke="#1a1a1a" stroke-width="0.6"/>
<line x1="173.60" y1="516.36" x2="174.90" y2="516.36" stroke="#1a1a1a" stroke-width="0.6"/>
<line x1="173.60" y1="515.71" x2="174.90" y2="515.71" stroke="#1a1a1a" stroke-width="0.6"/>
<line x1="173.60" y1="515.13" x2="174.90" y2="515.13" stroke="#1a1a1a" stroke-width="0.6"/>
<line x1="173.60" y1="533.70" x2="174.90" y2="533.70" stroke="#1a1a1a" stroke-width="0.6"/>
<line x1="173.60" y1="531.72" x2="174.90" y2="531.72" stroke="#1a1a1a" stroke-width="0.6"/>
<line x1="173.60" y1="530.32" x2="174.90" y2="530.32" stroke="#1a1a1a" stroke-width="0.6"/>
<line x1="173.60" y1="529.23" x2="174.90" y2="529.23" stroke="#1a1a1a" stroke-width="0.6"/>
<line x1="173.60" y1="528.34" x2="174.90" y2="528.34" stroke="#1a1a1a" stroke-width="0.6"/>
<line x1="173.60" y1="527.59" x2="174.90" y2="527.59" stroke="#1a1a1a" stroke-width="0.6"/>
<line x1="173.60" y1="526.94" x2="174.90" y2="526.94" stroke="#1a1a1a" stroke-width="0.6"/>
<line x1="173.60" y1="526.36" x2="174.90" y2="526.36" stroke="#1a1a1a" stroke-width="0.6"/>
<text x="157.80" y="473.00" font-size="8.0" text-anchor="start" fill="#1e1e1e" stroke="#1e1e1e" stroke-width="0.24" textLength="11.00" lengthAdjust="spacingAndGlyphs">10<tspan baseline-shift="3.4" font-size="5.8">9</tspan></text>
<text x="157.80" y="484.23" font-size="8.0" text-anchor="start" fill="#1e1e1e" stroke="#1e1e1e" stroke-width="0.24" textLength="11.00" lengthAdjust="spacingAndGlyphs">10<tspan baseline-shift="3.4" font-size="5.8">8</tspan></text>
<text x="157.80" y="495.46" font-size="8.0" text-anchor="start" fill="#1e1e1e" stroke="#1e1e1e" stroke-width="0.24" textLength="11.00" lengthAdjust="spacingAndGlyphs">10<tspan baseline-shift="3.4" font-size="5.8">7</tspan></text>
<text x="157.80" y="506.69" font-size="8.0" text-anchor="start" fill="#1e1e1e" stroke="#1e1e1e" stroke-width="0.24" textLength="11.00" lengthAdjust="spacingAndGlyphs">10<tspan baseline-shift="3.4" font-size="5.8">6</tspan></text>
<text x="157.80" y="517.92" font-size="8.0" text-anchor="start" fill="#1e1e1e" stroke="#1e1e1e" stroke-width="0.24" textLength="11.00" lengthAdjust="spacingAndGlyphs">10<tspan baseline-shift="3.4" font-size="5.8">5</tspan></text>
<text x="157.80" y="529.15" font-size="8.0" text-anchor="start" fill="#1e1e1e" stroke="#1e1e1e" stroke-width="0.24" textLength="11.00" lengthAdjust="spacingAndGlyphs">10<tspan baseline-shift="3.4" font-size="5.8">4</tspan></text>
<text x="157.80" y="540.38" font-size="8.0" text-anchor="start" fill="#1e1e1e" stroke="#1e1e1e" stroke-width="0.24" textLength="11.00" lengthAdjust="spacingAndGlyphs">10<tspan baseline-shift="3.4" font-size="5.8">3</tspan></text>
<line x1="174.90" y1="537.30" x2="276.20" y2="537.30" stroke="#1a1a1a" stroke-width="1.1"/>
<line x1="179.70" y1="537.30" x2="179.70" y2="539.70" stroke="#1a1a1a" stroke-width="0.9"/>
<text x="179.70" y="549.60" font-size="7.9" text-anchor="middle" fill="#1e1e1e" stroke="#1e1e1e" stroke-width="0.24" textLength="8.17" lengthAdjust="spacingAndGlyphs">–1</text>
<line x1="190.30" y1="537.30" x2="190.30" y2="539.70" stroke="#1a1a1a" stroke-width="0.9"/>
<text x="190.30" y="549.60" font-size="7.9" text-anchor="middle" fill="#1e1e1e" stroke="#1e1e1e" stroke-width="0.24" textLength="4.09" lengthAdjust="spacingAndGlyphs">6</text>
<line x1="200.50" y1="537.30" x2="200.50" y2="539.70" stroke="#1a1a1a" stroke-width="0.9"/>
<text x="200.50" y="549.60" font-size="7.9" text-anchor="middle" fill="#1e1e1e" stroke="#1e1e1e" stroke-width="0.24" textLength="8.17" lengthAdjust="spacingAndGlyphs">10</text>
<line x1="210.80" y1="537.30" x2="210.80" y2="539.70" stroke="#1a1a1a" stroke-width="0.9"/>
<text x="210.80" y="549.60" font-size="7.9" text-anchor="middle" fill="#1e1e1e" stroke="#1e1e1e" stroke-width="0.24" textLength="8.17" lengthAdjust="spacingAndGlyphs">14</text>
<line x1="220.80" y1="537.30" x2="220.80" y2="539.70" stroke="#1a1a1a" stroke-width="0.9"/>
<text x="220.80" y="549.60" font-size="7.9" text-anchor="middle" fill="#1e1e1e" stroke="#1e1e1e" stroke-width="0.24" textLength="8.17" lengthAdjust="spacingAndGlyphs">20</text>
<line x1="231.20" y1="537.30" x2="231.20" y2="539.70" stroke="#1a1a1a" stroke-width="0.9"/>
<text x="231.20" y="549.60" font-size="7.9" text-anchor="middle" fill="#1e1e1e" stroke="#1e1e1e" stroke-width="0.24" textLength="8.17" lengthAdjust="spacingAndGlyphs">27</text>
<line x1="251.20" y1="537.30" x2="251.20" y2="539.70" stroke="#1a1a1a" stroke-width="0.9"/>
<text x="251.20" y="549.60" font-size="7.9" text-anchor="middle" fill="#1e1e1e" stroke="#1e1e1e" stroke-width="0.24" textLength="8.17" lengthAdjust="spacingAndGlyphs">41</text>
<line x1="271.50" y1="537.30" x2="271.50" y2="539.70" stroke="#1a1a1a" stroke-width="0.9"/>
<text x="271.50" y="549.60" font-size="7.9" text-anchor="middle" fill="#1e1e1e" stroke="#1e1e1e" stroke-width="0.24" textLength="8.17" lengthAdjust="spacingAndGlyphs">55</text>
<polyline points="179.70,528.90 190.30,531.20 200.50,523.10 210.80,514.50 220.80,515.50 231.20,514.50 251.20,502.30 271.50,496.10" fill="none" stroke="#1d5e82" stroke-width="1.5" stroke-linejoin="round"/>
<polyline points="179.70,527.70 190.30,532.80 200.50,531.60 210.80,530.00 220.80,528.40 231.20,525.40 251.20,532.30 271.50,532.30" fill="none" stroke="#dc1f52" stroke-width="1.5" stroke-linejoin="round"/>
<polyline points="179.70,532.30 190.30,510.40 200.50,498.40 210.80,493.10 220.80,487.80 231.20,479.20" fill="none" stroke="#22b35f" stroke-width="1.5" stroke-linejoin="round"/>
<line x1="179.70" y1="527.70" x2="179.70" y2="527.00" stroke="#262626" stroke-width="1.0"/>
<path d="M178.10,526.40 L181.30,526.40 L180.66,527.70 L178.74,527.70 Z" fill="#262626"/>
<line x1="200.50" y1="531.60" x2="200.50" y2="530.00" stroke="#262626" stroke-width="1.0"/>
<path d="M198.90,529.40 L202.10,529.40 L201.46,530.70 L199.54,530.70 Z" fill="#262626"/>
<line x1="210.80" y1="530.00" x2="210.80" y2="528.80" stroke="#262626" stroke-width="1.0"/>
<path d="M209.20,528.20 L212.40,528.20 L211.76,529.50 L209.84,529.50 Z" fill="#262626"/>
<line x1="220.80" y1="528.40" x2="220.80" y2="526.50" stroke="#262626" stroke-width="1.0"/>
<path d="M219.20,525.90 L222.40,525.90 L221.76,527.20 L219.84,527.20 Z" fill="#262626"/>
<line x1="231.20" y1="525.40" x2="231.20" y2="520.80" stroke="#262626" stroke-width="1.0"/>
<path d="M229.60,520.20 L232.80,520.20 L232.16,521.50 L230.24,521.50 Z" fill="#262626"/>
<line x1="251.20" y1="532.30" x2="251.20" y2="531.60" stroke="#262626" stroke-width="1.0"/>
<path d="M249.60,531.00 L252.80,531.00 L252.16,532.30 L250.24,532.30 Z" fill="#262626"/>
<line x1="271.50" y1="532.30" x2="271.50" y2="531.40" stroke="#262626" stroke-width="1.0"/>
<path d="M269.90,530.80 L273.10,530.80 L272.46,532.10 L270.54,532.10 Z" fill="#262626"/>
<line x1="200.50" y1="523.10" x2="200.50" y2="518.50" stroke="#262626" stroke-width="1.0"/>
<path d="M198.90,517.90 L202.10,517.90 L201.46,519.20 L199.54,519.20 Z" fill="#262626"/>
<line x1="210.80" y1="514.50" x2="210.80" y2="508.50" stroke="#262626" stroke-width="1.0"/>
<path d="M209.20,507.90 L212.40,507.90 L211.76,509.20 L209.84,509.20 Z" fill="#262626"/>
<line x1="220.80" y1="515.50" x2="220.80" y2="510.00" stroke="#262626" stroke-width="1.0"/>
<path d="M219.20,509.40 L222.40,509.40 L221.76,510.70 L219.84,510.70 Z" fill="#262626"/>
<line x1="231.20" y1="514.50" x2="231.20" y2="510.40" stroke="#262626" stroke-width="1.0"/>
<path d="M229.60,509.80 L232.80,509.80 L232.16,511.10 L230.24,511.10 Z" fill="#262626"/>
<line x1="251.20" y1="502.30" x2="251.20" y2="497.70" stroke="#262626" stroke-width="1.0"/>
<path d="M249.60,497.10 L252.80,497.10 L252.16,498.40 L250.24,498.40 Z" fill="#262626"/>
<line x1="271.50" y1="496.10" x2="271.50" y2="490.10" stroke="#262626" stroke-width="1.0"/>
<path d="M269.90,489.50 L273.10,489.50 L272.46,490.80 L270.54,490.80 Z" fill="#262626"/>
<line x1="179.70" y1="532.30" x2="179.70" y2="531.60" stroke="#262626" stroke-width="1.0"/>
<path d="M178.10,531.00 L181.30,531.00 L180.66,532.30 L178.74,532.30 Z" fill="#262626"/>
<line x1="190.30" y1="510.40" x2="190.30" y2="509.20" stroke="#262626" stroke-width="1.0"/>
<path d="M188.70,508.60 L191.90,508.60 L191.26,509.90 L189.34,509.90 Z" fill="#262626"/>
<line x1="200.50" y1="498.40" x2="200.50" y2="497.20" stroke="#262626" stroke-width="1.0"/>
<path d="M198.90,496.60 L202.10,496.60 L201.46,497.90 L199.54,497.90 Z" fill="#262626"/>
<line x1="210.80" y1="493.10" x2="210.80" y2="492.00" stroke="#262626" stroke-width="1.0"/>
<path d="M209.20,491.40 L212.40,491.40 L211.76,492.70 L209.84,492.70 Z" fill="#262626"/>
<line x1="220.80" y1="487.80" x2="220.80" y2="486.80" stroke="#262626" stroke-width="1.0"/>
<path d="M219.20,486.20 L222.40,486.20 L221.76,487.50 L219.84,487.50 Z" fill="#262626"/>
<line x1="231.20" y1="479.20" x2="231.20" y2="478.00" stroke="#262626" stroke-width="1.0"/>
<path d="M229.60,477.40 L232.80,477.40 L232.16,478.70 L230.24,478.70 Z" fill="#262626"/>
<circle cx="269.82" cy="487.30" r="0.95" fill="#1a1a1a"/>
<circle cx="273.18" cy="487.30" r="0.95" fill="#1a1a1a"/>
<text transform="translate(139.10,502.50) rotate(-90)" x="0" y="0" font-size="9.0" text-anchor="middle" fill="#1e1e1e" stroke="#1e1e1e" stroke-width="0.24" textLength="59.30" lengthAdjust="spacingAndGlyphs">Average radiance</text>
<text transform="translate(150.40,502.20) rotate(-90)" x="0" y="0" font-size="8.4" text-anchor="middle" fill="#1e1e1e" stroke="#1e1e1e" stroke-width="0.24" textLength="40.40" lengthAdjust="spacingAndGlyphs">[p/s/cm<tspan baseline-shift="3.2" font-size="5.8">2</tspan>/sr]</text>
<text x="183.80" y="562.30" font-size="9.6" text-anchor="start" fill="#1e1e1e" stroke="#1e1e1e" stroke-width="0.2" textLength="83.20" lengthAdjust="spacingAndGlyphs">Days post CAR-T injection</text>
<line x1="281.50" y1="465.00" x2="290.20" y2="465.00" stroke="#dc1f52" stroke-width="1.5"/>
<text x="294.00" y="467.80" font-size="7.2" text-anchor="start" fill="#262626" stroke="#262626" stroke-width="0.2" textLength="64.00" lengthAdjust="spacingAndGlyphs">2.75×10<tspan baseline-shift="3.0" font-size="4.8">5</tspan> N1 CD4+</text>
<text x="294.00" y="476.80" font-size="7.2" text-anchor="start" fill="#262626" stroke="#262626" stroke-width="0.2" textLength="66.00" lengthAdjust="spacingAndGlyphs">2.75×10<tspan baseline-shift="3.0" font-size="4.8">5</tspan> Ctrl CD8+</text>
<line x1="281.50" y1="487.50" x2="290.20" y2="487.50" stroke="#1d5e82" stroke-width="1.5"/>
<text x="294.00" y="489.60" font-size="7.2" text-anchor="start" fill="#262626" stroke="#262626" stroke-width="0.2" textLength="66.00" lengthAdjust="spacingAndGlyphs">2.75×10<tspan baseline-shift="3.0" font-size="4.8">5</tspan> Ctrl CD4+</text>
<text x="294.00" y="498.50" font-size="7.2" text-anchor="start" fill="#262626" stroke="#262626" stroke-width="0.2" textLength="66.00" lengthAdjust="spacingAndGlyphs">2.75×10<tspan baseline-shift="3.0" font-size="4.8">5</tspan> Ctrl CD8+</text>
<line x1="281.50" y1="509.60" x2="290.20" y2="509.60" stroke="#22b35f" stroke-width="1.5"/>
<text x="294.00" y="512.50" font-size="7.2" text-anchor="start" fill="#262626" stroke="#262626" stroke-width="0.2" textLength="12.50" lengthAdjust="spacingAndGlyphs">PBS</text>
<text x="420.80" y="478.00" font-size="9.8" text-anchor="start" fill="#231f20" stroke="#231f20" stroke-width="0.2" textLength="29.20" lengthAdjust="spacingAndGlyphs">Day 55</text>
<rect x="396.00" y="485.60" width="78.30" height="36.60" fill="url(#bgg)"/>
<g filter="url(#bl)">
<path d="M403.83,520.45 C402.93,520.21 399.51,519.69 398.41,519.04 C397.32,518.39 397.48,517.75 397.26,516.58 C397.04,515.40 397.10,513.94 397.10,512.00 C397.10,510.06 397.18,507.01 397.26,504.96 C397.34,502.91 397.49,501.03 397.59,499.68 C397.69,498.33 397.55,497.74 397.87,496.86 C398.19,495.98 398.92,495.28 399.49,494.40 C400.07,493.52 400.84,492.58 401.30,491.58 C401.76,490.59 401.69,489.41 402.28,488.42 C402.87,487.42 404.35,485.60 404.86,485.60 C405.38,485.60 405.13,487.42 405.38,488.42 C405.63,489.41 405.90,490.59 406.36,491.58 C406.82,492.58 407.59,493.52 408.17,494.40 C408.74,495.28 409.47,495.98 409.79,496.86 C410.11,497.74 409.97,498.33 410.07,499.68 C410.17,501.03 410.32,502.91 410.40,504.96 C410.48,507.01 410.56,510.06 410.56,512.00 C410.56,513.94 410.62,515.40 410.40,516.58 C410.18,517.75 410.34,518.39 409.25,519.04 C408.15,519.69 404.73,520.21 403.83,520.45 Z" fill="url(#mg)"/>
<path d="M403.83,520.45 C402.93,520.21 399.51,519.69 398.41,519.04 C397.32,518.39 397.48,517.75 397.26,516.58 C397.04,515.40 397.10,513.94 397.10,512.00 C397.10,510.06 397.18,507.01 397.26,504.96 C397.34,502.91 397.49,501.03 397.59,499.68 C397.69,498.33 397.55,497.74 397.87,496.86 C398.19,495.98 398.92,495.28 399.49,494.40 C400.07,493.52 400.84,492.58 401.30,491.58 C401.76,490.59 401.69,489.41 402.28,488.42 C402.87,487.42 404.35,485.60 404.86,485.60 C405.38,485.60 405.13,487.42 405.38,488.42 C405.63,489.41 405.90,490.59 406.36,491.58 C406.82,492.58 407.59,493.52 408.17,494.40 C408.74,495.28 409.47,495.98 409.79,496.86 C410.11,497.74 409.97,498.33 410.07,499.68 C410.17,501.03 410.32,502.91 410.40,504.96 C410.48,507.01 410.56,510.06 410.56,512.00 C410.56,513.94 410.62,515.40 410.40,516.58 C410.18,517.75 410.34,518.39 409.25,519.04 C408.15,519.69 404.73,520.21 403.83,520.45 Z" fill="#000" filter="url(#fur)"/>
<ellipse cx="399.91" cy="521.20" rx="1.57" ry="0.8" fill="#777"/>
<ellipse cx="407.75" cy="521.20" rx="1.57" ry="0.8" fill="#777"/>
<path d="M419.49,520.45 C418.59,520.21 415.17,519.69 414.07,519.04 C412.98,518.39 413.14,517.75 412.92,516.58 C412.70,515.40 412.76,513.94 412.76,512.00 C412.76,510.06 412.84,507.01 412.92,504.96 C413.00,502.91 413.15,501.03 413.25,499.68 C413.35,498.33 413.21,497.74 413.53,496.86 C413.85,495.98 414.58,495.28 415.15,494.40 C415.73,493.52 416.50,492.58 416.96,491.58 C417.42,490.59 417.35,489.41 417.94,488.42 C418.53,487.42 420.01,485.60 420.52,485.60 C421.04,485.60 420.79,487.42 421.04,488.42 C421.29,489.41 421.56,490.59 422.02,491.58 C422.48,492.58 423.25,493.52 423.83,494.40 C424.40,495.28 425.13,495.98 425.45,496.86 C425.77,497.74 425.63,498.33 425.73,499.68 C425.83,501.03 425.98,502.91 426.06,504.96 C426.14,507.01 426.22,510.06 426.22,512.00 C426.22,513.94 426.28,515.40 426.06,516.58 C425.84,517.75 426.00,518.39 424.91,519.04 C423.81,519.69 420.39,520.21 419.49,520.45 Z" fill="url(#mg)"/>
<path d="M419.49,520.45 C418.59,520.21 415.17,519.69 414.07,519.04 C412.98,518.39 413.14,517.75 412.92,516.58 C412.70,515.40 412.76,513.94 412.76,512.00 C412.76,510.06 412.84,507.01 412.92,504.96 C413.00,502.91 413.15,501.03 413.25,499.68 C413.35,498.33 413.21,497.74 413.53,496.86 C413.85,495.98 414.58,495.28 415.15,494.40 C415.73,493.52 416.50,492.58 416.96,491.58 C417.42,490.59 417.35,489.41 417.94,488.42 C418.53,487.42 420.01,485.60 420.52,485.60 C421.04,485.60 420.79,487.42 421.04,488.42 C421.29,489.41 421.56,490.59 422.02,491.58 C422.48,492.58 423.25,493.52 423.83,494.40 C424.40,495.28 425.13,495.98 425.45,496.86 C425.77,497.74 425.63,498.33 425.73,499.68 C425.83,501.03 425.98,502.91 426.06,504.96 C426.14,507.01 426.22,510.06 426.22,512.00 C426.22,513.94 426.28,515.40 426.06,516.58 C425.84,517.75 426.00,518.39 424.91,519.04 C423.81,519.69 420.39,520.21 419.49,520.45 Z" fill="#000" filter="url(#fur)"/>
<ellipse cx="415.57" cy="521.20" rx="1.57" ry="0.8" fill="#777"/>
<ellipse cx="423.41" cy="521.20" rx="1.57" ry="0.8" fill="#777"/>
<path d="M435.15,520.45 C434.25,520.21 430.83,519.69 429.73,519.04 C428.64,518.39 428.80,517.75 428.58,516.58 C428.36,515.40 428.42,513.94 428.42,512.00 C428.42,510.06 428.50,507.01 428.58,504.96 C428.66,502.91 428.81,501.03 428.91,499.68 C429.01,498.33 428.87,497.74 429.19,496.86 C429.51,495.98 430.24,495.28 430.81,494.40 C431.39,493.52 432.16,492.58 432.62,491.58 C433.08,490.59 433.01,489.41 433.60,488.42 C434.19,487.42 435.67,485.60 436.18,485.60 C436.70,485.60 436.45,487.42 436.70,488.42 C436.95,489.41 437.22,490.59 437.68,491.58 C438.14,492.58 438.91,493.52 439.49,494.40 C440.06,495.28 440.79,495.98 441.11,496.86 C441.43,497.74 441.29,498.33 441.39,499.68 C441.49,501.03 441.64,502.91 441.72,504.96 C441.80,507.01 441.88,510.06 441.88,512.00 C441.88,513.94 441.94,515.40 441.72,516.58 C441.50,517.75 441.66,518.39 440.57,519.04 C439.47,519.69 436.05,520.21 435.15,520.45 Z" fill="url(#mg)"/>
<path d="M435.15,520.45 C434.25,520.21 430.83,519.69 429.73,519.04 C428.64,518.39 428.80,517.75 428.58,516.58 C428.36,515.40 428.42,513.94 428.42,512.00 C428.42,510.06 428.50,507.01 428.58,504.96 C428.66,502.91 428.81,501.03 428.91,499.68 C429.01,498.33 428.87,497.74 429.19,496.86 C429.51,495.98 430.24,495.28 430.81,494.40 C431.39,493.52 432.16,492.58 432.62,491.58 C433.08,490.59 433.01,489.41 433.60,488.42 C434.19,487.42 435.67,485.60 436.18,485.60 C436.70,485.60 436.45,487.42 436.70,488.42 C436.95,489.41 437.22,490.59 437.68,491.58 C438.14,492.58 438.91,493.52 439.49,494.40 C440.06,495.28 440.79,495.98 441.11,496.86 C441.43,497.74 441.29,498.33 441.39,499.68 C441.49,501.03 441.64,502.91 441.72,504.96 C441.80,507.01 441.88,510.06 441.88,512.00 C441.88,513.94 441.94,515.40 441.72,516.58 C441.50,517.75 441.66,518.39 440.57,519.04 C439.47,519.69 436.05,520.21 435.15,520.45 Z" fill="#000" filter="url(#fur)"/>
<ellipse cx="431.23" cy="521.20" rx="1.57" ry="0.8" fill="#777"/>
<ellipse cx="439.06" cy="521.20" rx="1.57" ry="0.8" fill="#777"/>
<path d="M450.81,520.45 C449.91,520.21 446.49,519.69 445.39,519.04 C444.30,518.39 444.46,517.75 444.24,516.58 C444.02,515.40 444.08,513.94 444.08,512.00 C444.08,510.06 444.16,507.01 444.24,504.96 C444.32,502.91 444.47,501.03 444.57,499.68 C444.67,498.33 444.53,497.74 444.85,496.86 C445.17,495.98 445.90,495.28 446.47,494.40 C447.05,493.52 447.82,492.58 448.28,491.58 C448.74,490.59 448.67,489.41 449.26,488.42 C449.85,487.42 451.33,485.60 451.84,485.60 C452.36,485.60 452.11,487.42 452.36,488.42 C452.61,489.41 452.88,490.59 453.34,491.58 C453.80,492.58 454.57,493.52 455.15,494.40 C455.72,495.28 456.45,495.98 456.77,496.86 C457.09,497.74 456.95,498.33 457.05,499.68 C457.15,501.03 457.30,502.91 457.38,504.96 C457.46,507.01 457.54,510.06 457.54,512.00 C457.54,513.94 457.60,515.40 457.38,516.58 C457.16,517.75 457.32,518.39 456.23,519.04 C455.13,519.69 451.71,520.21 450.81,520.45 Z" fill="url(#mg)"/>
<path d="M450.81,520.45 C449.91,520.21 446.49,519.69 445.39,519.04 C444.30,518.39 444.46,517.75 444.24,516.58 C444.02,515.40 444.08,513.94 444.08,512.00 C444.08,510.06 444.16,507.01 444.24,504.96 C444.32,502.91 444.47,501.03 444.57,499.68 C444.67,498.33 444.53,497.74 444.85,496.86 C445.17,495.98 445.90,495.28 446.47,494.40 C447.05,493.52 447.82,492.58 448.28,491.58 C448.74,490.59 448.67,489.41 449.26,488.42 C449.85,487.42 451.33,485.60 451.84,485.60 C452.36,485.60 452.11,487.42 452.36,488.42 C452.61,489.41 452.88,490.59 453.34,491.58 C453.80,492.58 454.57,493.52 455.15,494.40 C455.72,495.28 456.45,495.98 456.77,496.86 C457.09,497.74 456.95,498.33 457.05,499.68 C457.15,501.03 457.30,502.91 457.38,504.96 C457.46,507.01 457.54,510.06 457.54,512.00 C457.54,513.94 457.60,515.40 457.38,516.58 C457.16,517.75 457.32,518.39 456.23,519.04 C455.13,519.69 451.71,520.21 450.81,520.45 Z" fill="#000" filter="url(#fur)"/>
<ellipse cx="446.89" cy="521.20" rx="1.57" ry="0.8" fill="#777"/>
<ellipse cx="454.73" cy="521.20" rx="1.57" ry="0.8" fill="#777"/>
<path d="M466.47,520.45 C465.57,520.21 462.15,519.69 461.05,519.04 C459.96,518.39 460.12,517.75 459.90,516.58 C459.68,515.40 459.74,513.94 459.74,512.00 C459.74,510.06 459.82,507.01 459.90,504.96 C459.98,502.91 460.13,501.03 460.23,499.68 C460.33,498.33 460.19,497.74 460.51,496.86 C460.83,495.98 461.56,495.28 462.13,494.40 C462.71,493.52 463.48,492.58 463.94,491.58 C464.40,490.59 464.33,489.41 464.92,488.42 C465.51,487.42 466.99,485.60 467.50,485.60 C468.02,485.60 467.77,487.42 468.02,488.42 C468.27,489.41 468.54,490.59 469.00,491.58 C469.46,492.58 470.23,493.52 470.81,494.40 C471.38,495.28 472.11,495.98 472.43,496.86 C472.75,497.74 472.61,498.33 472.71,499.68 C472.81,501.03 472.96,502.91 473.04,504.96 C473.12,507.01 473.20,510.06 473.20,512.00 C473.20,513.94 473.26,515.40 473.04,516.58 C472.82,517.75 472.98,518.39 471.89,519.04 C470.79,519.69 467.37,520.21 466.47,520.45 Z" fill="url(#mg)"/>
<path d="M466.47,520.45 C465.57,520.21 462.15,519.69 461.05,519.04 C459.96,518.39 460.12,517.75 459.90,516.58 C459.68,515.40 459.74,513.94 459.74,512.00 C459.74,510.06 459.82,507.01 459.90,504.96 C459.98,502.91 460.13,501.03 460.23,499.68 C460.33,498.33 460.19,497.74 460.51,496.86 C460.83,495.98 461.56,495.28 462.13,494.40 C462.71,493.52 463.48,492.58 463.94,491.58 C464.40,490.59 464.33,489.41 464.92,488.42 C465.51,487.42 466.99,485.60 467.50,485.60 C468.02,485.60 467.77,487.42 468.02,488.42 C468.27,489.41 468.54,490.59 469.00,491.58 C469.46,492.58 470.23,493.52 470.81,494.40 C471.38,495.28 472.11,495.98 472.43,496.86 C472.75,497.74 472.61,498.33 472.71,499.68 C472.81,501.03 472.96,502.91 473.04,504.96 C473.12,507.01 473.20,510.06 473.20,512.00 C473.20,513.94 473.26,515.40 473.04,516.58 C472.82,517.75 472.98,518.39 471.89,519.04 C470.79,519.69 467.37,520.21 466.47,520.45 Z" fill="#000" filter="url(#fur)"/>
<ellipse cx="462.56" cy="521.20" rx="1.57" ry="0.8" fill="#777"/>
<ellipse cx="470.39" cy="521.20" rx="1.57" ry="0.8" fill="#777"/>
</g>
<rect x="444.50" y="523.30" width="29.80" height="47.50" fill="url(#bgg)"/>
<g filter="url(#bl)">
<path d="M451.95,568.94 C451.09,568.63 447.83,567.94 446.79,567.09 C445.75,566.25 445.91,565.40 445.70,563.87 C445.49,562.33 445.54,560.41 445.54,557.88 C445.54,555.34 445.62,551.34 445.70,548.65 C445.78,545.97 445.92,543.51 446.01,541.74 C446.11,539.97 445.98,539.20 446.28,538.05 C446.58,536.90 447.28,535.98 447.82,534.82 C448.37,533.67 449.10,532.44 449.54,531.14 C449.99,529.83 449.91,528.29 450.47,526.99 C451.04,525.68 452.44,523.30 452.93,523.30 C453.43,523.30 453.19,525.68 453.43,526.99 C453.66,528.29 453.91,529.83 454.36,531.14 C454.80,532.44 455.53,533.67 456.08,534.82 C456.62,535.98 457.32,536.90 457.62,538.05 C457.92,539.20 457.79,539.97 457.89,541.74 C457.98,543.51 458.12,545.97 458.20,548.65 C458.28,551.34 458.36,555.34 458.36,557.88 C458.36,560.41 458.41,562.33 458.20,563.87 C457.99,565.40 458.15,566.25 457.11,567.09 C456.07,567.94 452.81,568.63 451.95,568.94 Z" fill="url(#mg)"/>
<path d="M451.95,568.94 C451.09,568.63 447.83,567.94 446.79,567.09 C445.75,566.25 445.91,565.40 445.70,563.87 C445.49,562.33 445.54,560.41 445.54,557.88 C445.54,555.34 445.62,551.34 445.70,548.65 C445.78,545.97 445.92,543.51 446.01,541.74 C446.11,539.97 445.98,539.20 446.28,538.05 C446.58,536.90 447.28,535.98 447.82,534.82 C448.37,533.67 449.10,532.44 449.54,531.14 C449.99,529.83 449.91,528.29 450.47,526.99 C451.04,525.68 452.44,523.30 452.93,523.30 C453.43,523.30 453.19,525.68 453.43,526.99 C453.66,528.29 453.91,529.83 454.36,531.14 C454.80,532.44 455.53,533.67 456.08,534.82 C456.62,535.98 457.32,536.90 457.62,538.05 C457.92,539.20 457.79,539.97 457.89,541.74 C457.98,543.51 458.12,545.97 458.20,548.65 C458.28,551.34 458.36,555.34 458.36,557.88 C458.36,560.41 458.41,562.33 458.20,563.87 C457.99,565.40 458.15,566.25 457.11,567.09 C456.07,567.94 452.81,568.63 451.95,568.94 Z" fill="#000" filter="url(#fur)"/>
<ellipse cx="448.22" cy="569.80" rx="1.49" ry="0.8" fill="#777"/>
<ellipse cx="455.68" cy="569.80" rx="1.49" ry="0.8" fill="#777"/>
<path d="M466.85,568.94 C465.99,568.63 462.73,567.94 461.69,567.09 C460.65,566.25 460.81,565.40 460.60,563.87 C460.39,562.33 460.44,560.41 460.44,557.88 C460.44,555.34 460.52,551.34 460.60,548.65 C460.68,545.97 460.82,543.51 460.91,541.74 C461.01,539.97 460.88,539.20 461.18,538.05 C461.48,536.90 462.18,535.98 462.72,534.82 C463.27,533.67 464.00,532.44 464.44,531.14 C464.89,529.83 464.81,528.29 465.37,526.99 C465.94,525.68 467.34,523.30 467.83,523.30 C468.33,523.30 468.09,525.68 468.33,526.99 C468.56,528.29 468.81,529.83 469.26,531.14 C469.70,532.44 470.43,533.67 470.98,534.82 C471.52,535.98 472.22,536.90 472.52,538.05 C472.82,539.20 472.69,539.97 472.79,541.74 C472.88,543.51 473.02,545.97 473.10,548.65 C473.18,551.34 473.26,555.34 473.26,557.88 C473.26,560.41 473.31,562.33 473.10,563.87 C472.89,565.40 473.05,566.25 472.01,567.09 C470.97,567.94 467.71,568.63 466.85,568.94 Z" fill="url(#mg)"/>
<path d="M466.85,568.94 C465.99,568.63 462.73,567.94 461.69,567.09 C460.65,566.25 460.81,565.40 460.60,563.87 C460.39,562.33 460.44,560.41 460.44,557.88 C460.44,555.34 460.52,551.34 460.60,548.65 C460.68,545.97 460.82,543.51 460.91,541.74 C461.01,539.97 460.88,539.20 461.18,538.05 C461.48,536.90 462.18,535.98 462.72,534.82 C463.27,533.67 464.00,532.44 464.44,531.14 C464.89,529.83 464.81,528.29 465.37,526.99 C465.94,525.68 467.34,523.30 467.83,523.30 C468.33,523.30 468.09,525.68 468.33,526.99 C468.56,528.29 468.81,529.83 469.26,531.14 C469.70,532.44 470.43,533.67 470.98,534.82 C471.52,535.98 472.22,536.90 472.52,538.05 C472.82,539.20 472.69,539.97 472.79,541.74 C472.88,543.51 473.02,545.97 473.10,548.65 C473.18,551.34 473.26,555.34 473.26,557.88 C473.26,560.41 473.31,562.33 473.10,563.87 C472.89,565.40 473.05,566.25 472.01,567.09 C470.97,567.94 467.71,568.63 466.85,568.94 Z" fill="#000" filter="url(#fur)"/>
<ellipse cx="463.12" cy="569.80" rx="1.49" ry="0.8" fill="#777"/>
<ellipse cx="470.58" cy="569.80" rx="1.49" ry="0.8" fill="#777"/>
</g>
<g filter="url(#bl)">
<rect x="396.0" y="523.3" width="49.0" height="47.5" fill="#3a30c8"/>
<path d="M404.00,569.33 C403.12,569.02 399.76,568.33 398.69,567.47 C397.62,566.62 397.78,565.77 397.57,564.22 C397.35,562.67 397.41,560.73 397.41,558.17 C397.41,555.62 397.49,551.59 397.57,548.88 C397.65,546.16 397.70,543.68 397.89,541.90 C398.08,540.12 398.32,539.34 398.69,538.18 C399.07,537.02 399.63,536.09 400.14,534.92 C400.65,533.76 401.34,532.52 401.75,531.20 C402.16,529.89 402.05,528.34 402.59,527.02 C403.12,525.70 404.47,523.30 404.94,523.30 C405.41,523.30 405.19,525.70 405.41,527.02 C405.63,528.34 405.84,529.89 406.25,531.20 C406.66,532.52 407.35,533.76 407.86,534.92 C408.37,536.09 408.93,537.02 409.31,538.18 C409.68,539.34 409.92,540.12 410.11,541.90 C410.30,543.68 410.35,546.16 410.43,548.88 C410.51,551.59 410.59,555.62 410.59,558.17 C410.59,560.73 410.65,562.67 410.43,564.22 C410.22,565.77 410.38,566.62 409.31,567.47 C408.24,568.33 404.88,569.02 404.00,569.33 Z" fill="#6466ec"/>
<path d="M404.00,569.33 C403.12,569.02 399.76,568.33 398.69,567.47 C397.62,566.62 397.78,565.77 397.57,564.22 C397.35,562.67 397.41,560.73 397.41,558.17 C397.41,555.62 397.49,551.59 397.57,548.88 C397.65,546.16 397.70,543.68 397.89,541.90 C398.08,540.12 398.32,539.34 398.69,538.18 C399.07,537.02 399.63,536.09 400.14,534.92 C400.65,533.76 401.34,532.52 401.75,531.20 C402.16,529.89 402.05,528.34 402.59,527.02 C403.12,525.70 404.47,523.30 404.94,523.30 C405.41,523.30 405.19,525.70 405.41,527.02 C405.63,528.34 405.84,529.89 406.25,531.20 C406.66,532.52 407.35,533.76 407.86,534.92 C408.37,536.09 408.93,537.02 409.31,538.18 C409.68,539.34 409.92,540.12 410.11,541.90 C410.30,543.68 410.35,546.16 410.43,548.88 C410.51,551.59 410.59,555.62 410.59,558.17 C410.59,560.73 410.65,562.67 410.43,564.22 C410.22,565.77 410.38,566.62 409.31,567.47 C408.24,568.33 404.88,569.02 404.00,569.33 Z" fill="#ffffff" filter="url(#speck)" opacity="0.7"/>
<path d="M419.60,569.33 C418.72,569.02 415.36,568.33 414.29,567.47 C413.22,566.62 413.38,565.77 413.17,564.22 C412.95,562.67 413.01,560.73 413.01,558.17 C413.01,555.62 413.09,551.59 413.17,548.88 C413.25,546.16 413.30,543.68 413.49,541.90 C413.68,540.12 413.92,539.34 414.29,538.18 C414.67,537.02 415.23,536.09 415.74,534.92 C416.25,533.76 416.94,532.52 417.35,531.20 C417.76,529.89 417.65,528.34 418.19,527.02 C418.72,525.70 420.07,523.30 420.54,523.30 C421.01,523.30 420.79,525.70 421.01,527.02 C421.23,528.34 421.44,529.89 421.85,531.20 C422.26,532.52 422.95,533.76 423.46,534.92 C423.97,536.09 424.53,537.02 424.91,538.18 C425.28,539.34 425.52,540.12 425.71,541.90 C425.90,543.68 425.95,546.16 426.03,548.88 C426.11,551.59 426.19,555.62 426.19,558.17 C426.19,560.73 426.25,562.67 426.03,564.22 C425.82,565.77 425.98,566.62 424.91,567.47 C423.84,568.33 420.48,569.02 419.60,569.33 Z" fill="#6466ec"/>
<path d="M419.60,569.33 C418.72,569.02 415.36,568.33 414.29,567.47 C413.22,566.62 413.38,565.77 413.17,564.22 C412.95,562.67 413.01,560.73 413.01,558.17 C413.01,555.62 413.09,551.59 413.17,548.88 C413.25,546.16 413.30,543.68 413.49,541.90 C413.68,540.12 413.92,539.34 414.29,538.18 C414.67,537.02 415.23,536.09 415.74,534.92 C416.25,533.76 416.94,532.52 417.35,531.20 C417.76,529.89 417.65,528.34 418.19,527.02 C418.72,525.70 420.07,523.30 420.54,523.30 C421.01,523.30 420.79,525.70 421.01,527.02 C421.23,528.34 421.44,529.89 421.85,531.20 C422.26,532.52 422.95,533.76 423.46,534.92 C423.97,536.09 424.53,537.02 424.91,538.18 C425.28,539.34 425.52,540.12 425.71,541.90 C425.90,543.68 425.95,546.16 426.03,548.88 C426.11,551.59 426.19,555.62 426.19,558.17 C426.19,560.73 426.25,562.67 426.03,564.22 C425.82,565.77 425.98,566.62 424.91,567.47 C423.84,568.33 420.48,569.02 419.60,569.33 Z" fill="#ffffff" filter="url(#speck)" opacity="0.7"/>
<path d="M424.5,527 L429.5,527 L429.5,569 L424.5,569 Z" fill="#28b4f0"/>
<ellipse cx="406.80" cy="538.50" rx="5.20" ry="7.20" fill="#22b8e8" opacity="1.0"/>
<ellipse cx="406.80" cy="538.50" rx="4.26" ry="5.90" fill="#34d058" opacity="1.0"/>
<ellipse cx="406.80" cy="538.50" rx="3.64" ry="5.04" fill="#e81818" opacity="1.0"/>
<ellipse cx="404.20" cy="563.40" rx="4.80" ry="4.60" fill="#2a8af0" opacity="1.0"/>
<ellipse cx="404.20" cy="563.40" rx="4.08" ry="3.91" fill="#30d0a0" opacity="1.0"/>
<ellipse cx="404.20" cy="563.40" rx="3.46" ry="3.31" fill="#d0e030" opacity="1.0"/>
<ellipse cx="404.20" cy="563.40" rx="2.98" ry="2.85" fill="#e81818" opacity="1.0"/>
<ellipse cx="420.40" cy="562.80" rx="4.60" ry="4.20" fill="#2a8af0" opacity="1.0"/>
<ellipse cx="420.40" cy="562.80" rx="3.91" ry="3.57" fill="#30d0a0" opacity="1.0"/>
<ellipse cx="420.40" cy="562.80" rx="3.31" ry="3.02" fill="#d0e030" opacity="1.0"/>
<ellipse cx="420.40" cy="562.80" rx="2.85" ry="2.60" fill="#e81818" opacity="1.0"/>
<path d="M427.5,529 C429,525 441,524 443,527 L445,540 L445,566 C441,570 430,570 427.5,566 Z" fill="#2ac8d8"/>
<path d="M428.2,531 C430,526 440,525 442,528 L444,542 L444,563 C440,567 431,567 428.5,563 Z" fill="#38d060"/>
<path d="M433.5,527 C435,525.5 438.5,525.5 439.5,527 L441,533 L443.8,540 L443.8,561 C441,565 431,565.5 428.8,561 L428.8,537 C430,533 432.5,531 433.5,527 Z" fill="#e81414"/>
</g>
<line x1="396" y1="522.75" x2="474.3" y2="522.75" stroke="#ddd" stroke-width="0.9"/>
<text x="364.20" y="504.00" font-size="7.0" text-anchor="start" fill="#231f20" stroke="#231f20" stroke-width="0.24" textLength="28.20" lengthAdjust="spacingAndGlyphs"><tspan fill="#dc1f52" stroke="#dc1f52">N1</tspan><tspan font-weight="bold"> CD4+</tspan></text>
<text x="362.00" y="511.60" font-size="7.0" text-anchor="start" fill="#231f20" stroke="#231f20" stroke-width="0.24" textLength="30.40" lengthAdjust="spacingAndGlyphs"><tspan font-weight="bold">Ctrl CD8+</tspan></text>
<text x="362.00" y="546.50" font-size="7.0" text-anchor="start" fill="#231f20" stroke="#231f20" stroke-width="0.24" textLength="30.40" lengthAdjust="spacingAndGlyphs"><tspan fill="#3f7fa8" stroke="#3f7fa8"><tspan font-weight="bold">Ctrl</tspan></tspan><tspan font-weight="bold"> CD4+</tspan></text>
<text x="362.00" y="554.00" font-size="7.0" text-anchor="start" fill="#231f20" stroke="#231f20" stroke-width="0.24" textLength="30.40" lengthAdjust="spacingAndGlyphs"><tspan font-weight="bold">Ctrl CD8+</tspan></text>
<rect x="478.00" y="492.80" width="12.30" height="76.20" fill="url(#cbar)" stroke="#222" stroke-width="0.8"/>
<line x1="490.30" y1="493.80" x2="492.50" y2="493.80" stroke="#222" stroke-width="0.8"/>
<text x="494.50" y="496.20" font-size="6.6" text-anchor="start" fill="#2a2a2a" stroke="#2a2a2a" stroke-width="0.15" textLength="17.60" lengthAdjust="spacingAndGlyphs">1×10<tspan baseline-shift="2.8" font-size="4.8">6</tspan></text>
<line x1="490.30" y1="508.70" x2="492.50" y2="508.70" stroke="#222" stroke-width="0.8"/>
<text x="494.50" y="511.10" font-size="6.6" text-anchor="start" fill="#2a2a2a" stroke="#2a2a2a" stroke-width="0.15" textLength="17.60" lengthAdjust="spacingAndGlyphs">8×10<tspan baseline-shift="2.8" font-size="4.8">5</tspan></text>
<line x1="490.30" y1="525.60" x2="492.50" y2="525.60" stroke="#222" stroke-width="0.8"/>
<text x="494.50" y="528.00" font-size="6.6" text-anchor="start" fill="#2a2a2a" stroke="#2a2a2a" stroke-width="0.15" textLength="17.60" lengthAdjust="spacingAndGlyphs">6×10<tspan baseline-shift="2.8" font-size="4.8">5</tspan></text>
<line x1="490.30" y1="541.80" x2="492.50" y2="541.80" stroke="#222" stroke-width="0.8"/>
<text x="494.50" y="544.20" font-size="6.6" text-anchor="start" fill="#2a2a2a" stroke="#2a2a2a" stroke-width="0.15" textLength="17.60" lengthAdjust="spacingAndGlyphs">4×10<tspan baseline-shift="2.8" font-size="4.8">5</tspan></text>
<line x1="490.30" y1="556.90" x2="492.50" y2="556.90" stroke="#222" stroke-width="0.8"/>
<text x="494.50" y="559.30" font-size="6.6" text-anchor="start" fill="#2a2a2a" stroke="#2a2a2a" stroke-width="0.15" textLength="17.60" lengthAdjust="spacingAndGlyphs">2×10<tspan baseline-shift="2.8" font-size="4.8">5</tspan></text>
<line x1="490.30" y1="568.40" x2="492.50" y2="568.40" stroke="#222" stroke-width="0.8"/>
<text x="494.50" y="570.80" font-size="6.6" text-anchor="start" fill="#2a2a2a" stroke="#2a2a2a" stroke-width="0.15" textLength="17.60" lengthAdjust="spacingAndGlyphs">5×10<tspan baseline-shift="2.8" font-size="4.8">4</tspan></text>
<text x="477.70" y="461.90" font-size="8.2" text-anchor="start" fill="#231f20" stroke="#231f20" stroke-width="0.16" textLength="27.80" lengthAdjust="spacingAndGlyphs">Average</text>
<text x="477.70" y="471.60" font-size="8.2" text-anchor="start" fill="#231f20" stroke="#231f20" stroke-width="0.16" textLength="28.80" lengthAdjust="spacingAndGlyphs">radiance</text>
<text x="477.40" y="481.30" font-size="8.2" text-anchor="start" fill="#231f20" stroke="#231f20" stroke-width="0.16" textLength="39.70" lengthAdjust="spacingAndGlyphs">[p/s/cm<tspan baseline-shift="3.1" font-size="5.4">2</tspan>/sr]</text>
</svg>
</body></html>
